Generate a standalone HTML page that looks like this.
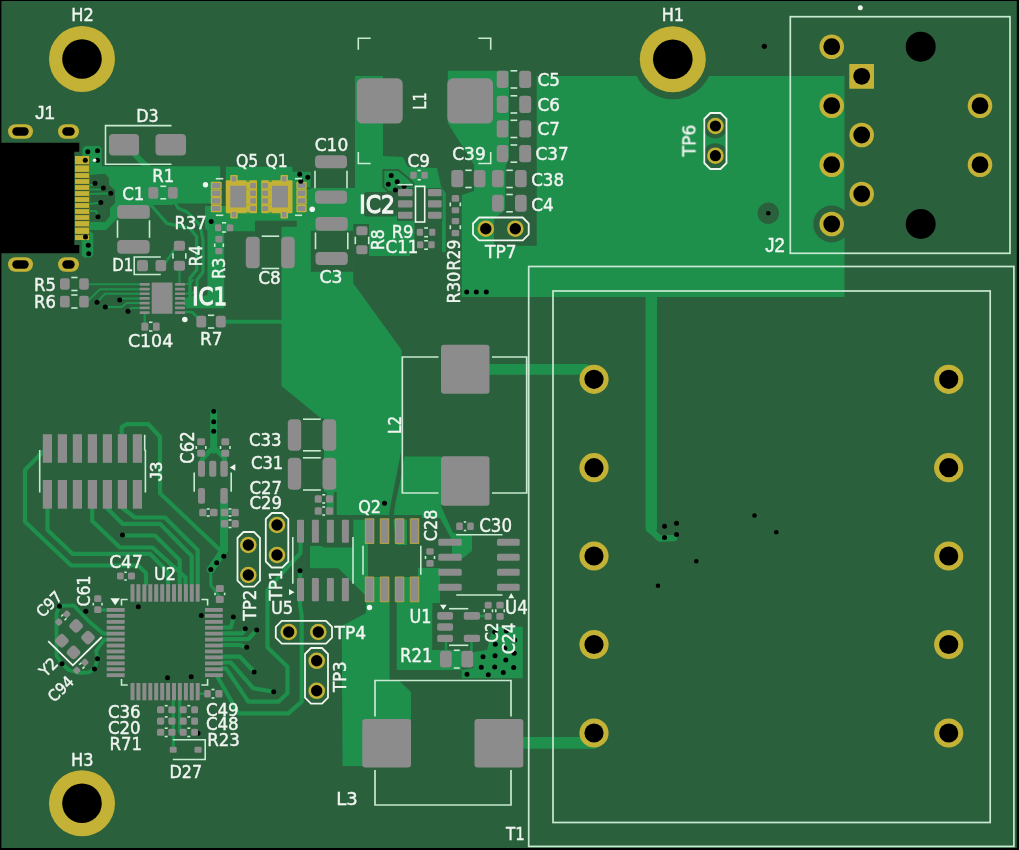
<!DOCTYPE html>
<html><head><meta charset="utf-8"><title>PCB</title>
<style>html,body{margin:0;padding:0;background:#000;}svg{display:block}text{font-family:"DejaVu Sans","Liberation Sans",sans-serif;fill:#eef6ee;stroke:#f2f2f2;stroke-width:0.45px}</style>
</head><body>
<svg width="1019" height="850" viewBox="0 0 1019 850">
<rect x="0" y="0" width="1019" height="850" fill="#000"/>
<rect x="1.4" y="1.0" width="1015.4" height="847.0" rx="0.0" fill="#2a603b" />
<polygon points="447.8,70.8 509.0,70.8 509.0,76.0 844.5,76.0 844.5,297.0 461.7,297.0 461.7,195.0 474.0,191.0 474.0,165.0 447.8,123.0" fill="#1f8f4c" />
<polygon points="89.0,164.0 101.7,164.0 101.7,166.3 220.3,166.3 220.3,203.5 175.0,203.5 172.0,205.0 150.0,205.0 150.0,218.7 117.0,218.7 106.0,230.0 89.0,230.0" fill="#1f8f4c" />
<polygon points="82.5,148.5 85.0,146.0 99.5,146.0 101.7,148.5 101.7,166.3 89.0,166.3 89.0,156.0 82.5,156.0" fill="#1f8f4c" />
<polygon points="81.7,240.0 89.0,240.0 89.0,230.0 93.3,234.0 93.3,255.0 91.0,257.5 84.0,257.5 81.7,255.0" fill="#1f8f4c" />
<polygon points="131.7,155.0 139.2,150.0 139.2,155.0 151.0,166.5 142.0,166.5" fill="#1f8f4c" />
<polygon points="225.8,166.7 292.5,166.7 292.5,171.7 310.8,171.7 310.8,188.0 355.0,188.0 355.0,76.0 383.0,76.0 383.0,156.0 403.0,157.0 408.0,167.0 437.0,168.0 441.0,186.0 445.8,193.0 445.8,252.0 410.0,252.0 410.0,256.0 369.0,256.0 369.0,250.0 353.3,250.0 353.3,283.3 401.7,350.0 401.0,452.0 397.5,470.0 391.0,503.0 388.5,518.0 336.7,518.0 336.7,492.0 324.0,492.0 324.0,418.3 320.8,418.3 281.5,386.0 281.5,226.7 296.7,226.7 296.7,220.8 255.0,220.8 255.0,231.3 224.2,231.3 224.2,308.3 186.0,308.3 186.0,300.0 207.5,295.0 207.5,231.3 205.0,228.0 205.0,206.0 225.8,206.0" fill="#1f8f4c" />
<polygon points="404.5,456.5 441.0,456.5 441.0,506.0 453.0,533.0 472.0,535.0 472.0,551.0 463.0,558.0 452.0,558.0 452.0,540.0 440.0,518.0 407.0,518.0 407.0,568.0 440.0,568.0 440.0,603.0 432.5,610.0 432.5,650.0 461.7,650.0 461.7,670.0 396.7,670.0 396.7,545.0 393.0,518.0 395.5,503.0 402.5,470.0" fill="#1f8f4c" />
<polygon points="461.7,678.3 522.8,678.3 522.8,626.7 493.0,626.7 487.0,650.0 473.3,652.0 473.3,668.0 461.7,670.0" fill="#1f8f4c" />
<polygon points="341.7,626.0 366.0,613.0 366.0,577.0 389.5,577.0 389.5,680.5 399.0,680.5 411.0,692.0 411.0,766.0 342.5,766.0" fill="#1f8f4c" />
<polygon points="353.0,518.0 368.0,518.0 368.0,598.0 353.0,583.0" fill="#1f8f4c" />
<polygon points="310.0,546.0 353.0,546.0 353.0,583.0 338.3,568.3 310.0,568.3" fill="#1f8f4c" />
<polygon points="326.7,489.0 334.0,489.0 334.0,520.0 326.7,520.0" fill="#1f8f4c" />
<polygon points="509.0,76.0 536.7,76.0 536.7,245.8 494.0,245.8 494.0,219.0 505.0,210.0 505.8,166.7 509.0,156.7" fill="#2a603b" />
<circle cx="672.8" cy="59.2" r="40.0" fill="#2a603b"/>
<circle cx="768.3" cy="213.3" r="10.7" fill="#2a603b"/>
<circle cx="831.7" cy="224.0" r="18.5" fill="#2a603b"/>
<circle cx="715.3" cy="126.0" r="12.5" fill="#2a603b"/>
<circle cx="715.3" cy="155.7" r="12.5" fill="#2a603b"/>
<polygon points="90.0,175.0 105.0,173.7 109.0,178.0 109.0,185.0 115.0,190.0 115.0,203.0 110.0,208.0 110.0,216.0 105.0,222.0 90.0,222.0" fill="#2a603b" />
<rect x="310.8" y="171.7" width="42.5" height="16.3" rx="0.0" fill="#2a603b" />
<rect x="310.8" y="230.8" width="42.5" height="40.9" rx="0.0" fill="#2a603b" />
<rect x="364.0" y="192.0" width="33.0" height="24.5" rx="3.0" fill="#2a603b" />
<rect x="397.0" y="188.0" width="45.5" height="33.0" rx="0.0" fill="#2a603b" />
<rect x="414.5" y="221.0" width="27.5" height="31.0" rx="0.0" fill="#2a603b" />
<polygon points="383.3,170.0 398.3,170.0 408.3,178.3 413.3,183.3 413.3,186.0 398.3,186.7 396.7,193.3 388.3,191.7 383.3,186.7" fill="#1f8f4c" stroke="#2a603b" stroke-width="2"/>
<rect x="353.3" y="224.0" width="15.7" height="32.0" rx="0.0" fill="#2a603b" />
<rect x="321.7" y="515.0" width="31.6" height="32.5" rx="3.0" fill="#2a603b" />
<rect x="340.0" y="515.0" width="81.7" height="4.7" rx="0.0" fill="#2a603b" />
<rect x="368.0" y="545.0" width="50.0" height="32.0" rx="0.0" fill="#2a603b" />
<rect x="407.0" y="518.0" width="33.0" height="50.0" rx="4.0" fill="#2a603b" />
<rect x="432.5" y="603.0" width="29.2" height="47.0" rx="0.0" fill="#2a603b" />
<polyline points="206.7,205.0 225.8,205.0" fill="none" stroke="#2a603b" stroke-width="1.6" stroke-linecap="butt" stroke-linejoin="round"/>
<polyline points="296.7,188.3 310.8,188.3" fill="none" stroke="#2a603b" stroke-width="1.6" stroke-linecap="butt" stroke-linejoin="round"/>
<polyline points="489.0,369.3 585.0,369.3 594.0,376.0" fill="none" stroke="#1f8f4c" stroke-width="10.7" stroke-linecap="round" stroke-linejoin="round"/>
<polyline points="523.0,742.8 594.0,742.8" fill="none" stroke="#1f8f4c" stroke-width="11.7" stroke-linecap="round" stroke-linejoin="round"/>
<polyline points="651.3,295.0 651.3,528.0" fill="none" stroke="#1f8f4c" stroke-width="11.5" stroke-linecap="round" stroke-linejoin="round"/>
<polyline points="649.5,529.0 659.5,538.5 674.0,538.0" fill="none" stroke="#1f8f4c" stroke-width="6.5" stroke-linecap="round" stroke-linejoin="round"/>
<polyline points="225.8,321.7 281.5,321.7" fill="none" stroke="#1f8f4c" stroke-width="4.0" stroke-linecap="round" stroke-linejoin="round"/>
<polyline points="89.0,194.0 110.8,193.3" fill="none" stroke="#1f8f4c" stroke-width="2.2" stroke-linecap="round" stroke-linejoin="round"/>
<polyline points="89.0,204.0 100.8,202.5" fill="none" stroke="#1f8f4c" stroke-width="2.2" stroke-linecap="round" stroke-linejoin="round"/>
<polyline points="89.0,211.0 96.0,211.0 98.0,216.7" fill="none" stroke="#1f8f4c" stroke-width="2.2" stroke-linecap="round" stroke-linejoin="round"/>
<polyline points="89.0,186.0 95.0,183.3" fill="none" stroke="#1f8f4c" stroke-width="2.2" stroke-linecap="round" stroke-linejoin="round"/>
<polyline points="89.0,189.5 100.0,189.5 103.3,188.0" fill="none" stroke="#1f8f4c" stroke-width="2.2" stroke-linecap="round" stroke-linejoin="round"/>
<polyline points="88.8,284.2 140.0,284.2" fill="none" stroke="#1f8f4c" stroke-width="2.0" stroke-linecap="round" stroke-linejoin="round"/>
<polyline points="88.8,300.0 100.0,289.2 140.0,289.2" fill="none" stroke="#1f8f4c" stroke-width="2.0" stroke-linecap="round" stroke-linejoin="round"/>
<polyline points="97.0,302.2 105.0,293.7 140.0,293.7" fill="none" stroke="#1f8f4c" stroke-width="2.0" stroke-linecap="round" stroke-linejoin="round"/>
<polyline points="119.7,300.0 123.0,298.5 140.0,298.5" fill="none" stroke="#1f8f4c" stroke-width="2.0" stroke-linecap="round" stroke-linejoin="round"/>
<polyline points="105.3,307.0 121.7,307.0 126.7,303.0 140.0,303.0" fill="none" stroke="#1f8f4c" stroke-width="2.0" stroke-linecap="round" stroke-linejoin="round"/>
<polyline points="128.0,311.3 131.7,308.0 140.0,308.0" fill="none" stroke="#1f8f4c" stroke-width="2.0" stroke-linecap="round" stroke-linejoin="round"/>
<polyline points="144.7,313.0 144.7,324.0" fill="none" stroke="#1f8f4c" stroke-width="2.5" stroke-linecap="round" stroke-linejoin="round"/>
<polyline points="166.0,262.0 174.0,250.0 176.0,246.0" fill="none" stroke="#1f8f4c" stroke-width="2.5" stroke-linecap="round" stroke-linejoin="round"/>
<polyline points="179.5,270.8 179.5,283.0" fill="none" stroke="#1f8f4c" stroke-width="2.0" stroke-linecap="round" stroke-linejoin="round"/>
<polyline points="150.0,204.0 157.0,212.0 166.7,223.3 190.0,228.3 196.7,236.7 196.7,270.0 190.0,278.0 190.0,300.0 185.0,304.0" fill="none" stroke="#1f8f4c" stroke-width="3.3" stroke-linecap="round" stroke-linejoin="round"/>
<polyline points="173.3,200.0 178.3,208.3 186.7,211.7 200.0,225.0 203.0,240.0 203.0,272.0 197.0,280.0 197.0,296.0 185.0,300.0" fill="none" stroke="#1f8f4c" stroke-width="3.3" stroke-linecap="round" stroke-linejoin="round"/>
<polyline points="185.0,284.0 190.0,284.0 193.0,280.0" fill="none" stroke="#1f8f4c" stroke-width="2.0" stroke-linecap="round" stroke-linejoin="round"/>
<polyline points="185.0,293.5 192.0,293.5 196.0,289.0" fill="none" stroke="#1f8f4c" stroke-width="2.0" stroke-linecap="round" stroke-linejoin="round"/>
<polyline points="185.0,312.0 192.0,312.0 200.0,320.0" fill="none" stroke="#1f8f4c" stroke-width="2.5" stroke-linecap="round" stroke-linejoin="round"/>
<polyline points="42.8,451.7 25.0,470.0 25.0,521.7 71.3,565.5 138.0,565.5 146.0,573.0 146.0,584.0" fill="none" stroke="#1f8f4c" stroke-width="4.2" stroke-linecap="round" stroke-linejoin="round"/>
<polyline points="47.5,508.0 47.5,530.0 72.5,553.8 150.0,553.8 158.0,562.0 168.0,572.0 168.0,584.0" fill="none" stroke="#1f8f4c" stroke-width="4.2" stroke-linecap="round" stroke-linejoin="round"/>
<polyline points="92.2,508.0 92.2,521.0 120.0,547.5 152.5,547.5 185.5,577.5 185.5,585.0" fill="none" stroke="#1f8f4c" stroke-width="4.2" stroke-linecap="round" stroke-linejoin="round"/>
<polyline points="107.0,508.0 122.5,523.8 160.0,523.8 191.7,556.0 191.7,585.0" fill="none" stroke="#1f8f4c" stroke-width="4.2" stroke-linecap="round" stroke-linejoin="round"/>
<polyline points="122.5,508.0 135.0,517.5 165.0,517.5 197.7,550.0 197.7,585.0" fill="none" stroke="#1f8f4c" stroke-width="4.2" stroke-linecap="round" stroke-linejoin="round"/>
<polyline points="122.5,535.5 155.0,535.5 179.7,560.0 179.7,585.0" fill="none" stroke="#1f8f4c" stroke-width="4.2" stroke-linecap="round" stroke-linejoin="round"/>
<polyline points="121.7,434.0 121.7,427.0 126.7,424.2 148.3,424.2 160.0,436.7 160.0,493.3 220.0,550.0" fill="none" stroke="#1f8f4c" stroke-width="4.2" stroke-linecap="round" stroke-linejoin="round"/>
<polyline points="213.7,412.0 213.7,450.0" fill="none" stroke="#1f8f4c" stroke-width="7.0" stroke-linecap="round" stroke-linejoin="round"/>
<polyline points="213.7,447.0 203.0,458.0 201.5,462.0" fill="none" stroke="#1f8f4c" stroke-width="5.0" stroke-linecap="round" stroke-linejoin="round"/>
<polyline points="213.7,447.0 224.5,458.0 224.5,462.0" fill="none" stroke="#1f8f4c" stroke-width="5.0" stroke-linecap="round" stroke-linejoin="round"/>
<polyline points="224.0,503.0 224.0,550.0 210.8,569.5" fill="none" stroke="#1f8f4c" stroke-width="8.0" stroke-linecap="round" stroke-linejoin="round"/>
<polyline points="210.8,569.5 210.8,585.0 216.0,592.0 219.0,596.0" fill="none" stroke="#1f8f4c" stroke-width="3.0" stroke-linecap="round" stroke-linejoin="round"/>
<polyline points="226.0,512.0 235.0,512.0" fill="none" stroke="#1f8f4c" stroke-width="3.0" stroke-linecap="round" stroke-linejoin="round"/>
<polyline points="222.0,627.5 230.8,627.5 233.7,617.0" fill="none" stroke="#1f8f4c" stroke-width="4.2" stroke-linecap="round" stroke-linejoin="round"/>
<polyline points="222.0,633.3 242.5,633.3 245.3,629.2" fill="none" stroke="#1f8f4c" stroke-width="4.2" stroke-linecap="round" stroke-linejoin="round"/>
<polyline points="222.0,639.2 248.3,639.2 256.7,630.0" fill="none" stroke="#1f8f4c" stroke-width="4.2" stroke-linecap="round" stroke-linejoin="round"/>
<polyline points="222.0,645.0 240.0,645.0 246.7,647.5" fill="none" stroke="#1f8f4c" stroke-width="4.2" stroke-linecap="round" stroke-linejoin="round"/>
<polyline points="222.0,656.7 240.0,656.7 254.7,672.2" fill="none" stroke="#1f8f4c" stroke-width="4.2" stroke-linecap="round" stroke-linejoin="round"/>
<polyline points="222.0,662.5 230.8,662.5 253.3,688.3 273.7,691.7" fill="none" stroke="#1f8f4c" stroke-width="4.2" stroke-linecap="round" stroke-linejoin="round"/>
<polyline points="222.0,668.3 226.0,668.3 248.3,701.7 278.3,701.7 287.5,693.3 287.5,666.7 267.5,647.5 267.5,590.0 283.5,571.5 300.5,553.0 300.5,543.0" fill="none" stroke="#1f8f4c" stroke-width="4.2" stroke-linecap="round" stroke-linejoin="round"/>
<polyline points="217.0,676.0 238.3,713.3 288.3,713.3 301.7,701.7 301.7,646.7 301.7,615.0 300.0,605.0 300.5,598.0" fill="none" stroke="#1f8f4c" stroke-width="4.2" stroke-linecap="round" stroke-linejoin="round"/>
<polyline points="300.0,570.8 300.5,580.0" fill="none" stroke="#1f8f4c" stroke-width="4.2" stroke-linecap="round" stroke-linejoin="round"/>
<polyline points="173.3,700.0 173.3,748.0" fill="none" stroke="#1f8f4c" stroke-width="3.2" stroke-linecap="round" stroke-linejoin="round"/>
<polyline points="179.7,700.0 179.7,732.0" fill="none" stroke="#1f8f4c" stroke-width="3.2" stroke-linecap="round" stroke-linejoin="round"/>
<polyline points="200.0,693.8 207.0,693.8" fill="none" stroke="#1f8f4c" stroke-width="2.5" stroke-linecap="round" stroke-linejoin="round"/>
<polyline points="59.6,605.9 73.5,605.3 88.8,621.2 103.0,633.5 108.0,633.5" fill="none" stroke="#1f8f4c" stroke-width="3.8" stroke-linecap="round" stroke-linejoin="round"/>
<polyline points="108.0,639.4 104.0,640.0 96.0,651.2 97.6,658.8 94.5,669.0 88.8,672.4 79.4,673.0 68.8,670.0 61.8,663.5 56.5,655.9 56.5,613.5 59.6,605.9" fill="none" stroke="#1f8f4c" stroke-width="3.8" stroke-linecap="round" stroke-linejoin="round"/>
<polyline points="101.0,610.0 108.0,610.0" fill="none" stroke="#1f8f4c" stroke-width="3.0" stroke-linecap="round" stroke-linejoin="round"/>
<polyline points="446.0,642.0 446.0,651.0" fill="none" stroke="#1f8f4c" stroke-width="2.5" stroke-linecap="round" stroke-linejoin="round"/>
<polyline points="471.5,642.0 471.5,651.0" fill="none" stroke="#1f8f4c" stroke-width="2.5" stroke-linecap="round" stroke-linejoin="round"/>
<polyline points="480.0,616.0 485.0,616.0" fill="none" stroke="#1f8f4c" stroke-width="2.5" stroke-linecap="round" stroke-linejoin="round"/>
<polyline points="412.0,193.0 404.2,186.2" fill="none" stroke="#1f8f4c" stroke-width="2.5" stroke-linecap="round" stroke-linejoin="round"/>
<circle cx="82.0" cy="59.0" r="33.0" fill="#c4b236"/>
<circle cx="82.0" cy="59.0" r="19.8" fill="#000"/>
<circle cx="672.8" cy="59.2" r="33.0" fill="#c4b236"/>
<circle cx="672.8" cy="59.2" r="19.8" fill="#000"/>
<circle cx="82.0" cy="803.3" r="33.0" fill="#c4b236"/>
<circle cx="82.0" cy="803.3" r="19.8" fill="#000"/>
<rect x="8.0" y="124.2" width="25.0" height="14.6" rx="7.3" fill="#c4b236" />
<rect x="12.3" y="127.3" width="16.4" height="8.4" rx="4.2" fill="#000" />
<rect x="58.0" y="124.2" width="21.0" height="14.6" rx="7.3" fill="#c4b236" />
<rect x="62.3" y="127.3" width="12.4" height="8.4" rx="4.2" fill="#000" />
<rect x="8.0" y="257.2" width="25.0" height="14.6" rx="7.3" fill="#c4b236" />
<rect x="12.3" y="260.3" width="16.4" height="8.4" rx="4.2" fill="#000" />
<rect x="58.0" y="257.2" width="21.0" height="14.6" rx="7.3" fill="#c4b236" />
<rect x="62.3" y="260.3" width="12.4" height="8.4" rx="4.2" fill="#000" />
<polygon points="0.0,142.7 79.3,142.7 79.3,151.8 74.3,151.8 74.3,245.0 79.3,245.0 79.3,253.3 0.0,253.3" fill="#000" />
<rect x="75.0" y="156.0" width="14.0" height="84.0" rx="0.0" fill="#c4b236" />
<polyline points="75.0,164.8 89.0,164.8" fill="none" stroke="#3c5a2e" stroke-width="1.2" stroke-linecap="butt" stroke-linejoin="round"/>
<polyline points="75.0,172.5 89.0,172.5" fill="none" stroke="#3c5a2e" stroke-width="1.2" stroke-linecap="butt" stroke-linejoin="round"/>
<polyline points="75.0,178.5 89.0,178.5" fill="none" stroke="#3c5a2e" stroke-width="1.2" stroke-linecap="butt" stroke-linejoin="round"/>
<polyline points="75.0,184.5 89.0,184.5" fill="none" stroke="#3c5a2e" stroke-width="1.2" stroke-linecap="butt" stroke-linejoin="round"/>
<polyline points="75.0,190.5 89.0,190.5" fill="none" stroke="#3c5a2e" stroke-width="1.2" stroke-linecap="butt" stroke-linejoin="round"/>
<polyline points="75.0,196.5 89.0,196.5" fill="none" stroke="#3c5a2e" stroke-width="1.2" stroke-linecap="butt" stroke-linejoin="round"/>
<polyline points="75.0,202.5 89.0,202.5" fill="none" stroke="#3c5a2e" stroke-width="1.2" stroke-linecap="butt" stroke-linejoin="round"/>
<polyline points="75.0,208.5 89.0,208.5" fill="none" stroke="#3c5a2e" stroke-width="1.2" stroke-linecap="butt" stroke-linejoin="round"/>
<polyline points="75.0,214.5 89.0,214.5" fill="none" stroke="#3c5a2e" stroke-width="1.2" stroke-linecap="butt" stroke-linejoin="round"/>
<polyline points="75.0,220.5 89.0,220.5" fill="none" stroke="#3c5a2e" stroke-width="1.2" stroke-linecap="butt" stroke-linejoin="round"/>
<polyline points="75.0,227.0 89.0,227.0" fill="none" stroke="#3c5a2e" stroke-width="1.2" stroke-linecap="butt" stroke-linejoin="round"/>
<polyline points="75.0,234.5 89.0,234.5" fill="none" stroke="#3c5a2e" stroke-width="1.2" stroke-linecap="butt" stroke-linejoin="round"/>
<circle cx="87.8" cy="151.7" r="2.5" fill="#000"/>
<circle cx="97.5" cy="150.8" r="2.5" fill="#000"/>
<circle cx="85.3" cy="160.3" r="2.5" fill="#000"/>
<circle cx="97.5" cy="160.3" r="2.5" fill="#000"/>
<circle cx="95.0" cy="183.3" r="2.5" fill="#000"/>
<circle cx="103.3" cy="188.0" r="2.5" fill="#000"/>
<circle cx="110.8" cy="193.3" r="2.5" fill="#000"/>
<circle cx="100.8" cy="202.5" r="2.5" fill="#000"/>
<circle cx="98.0" cy="216.7" r="2.5" fill="#000"/>
<circle cx="85.5" cy="237.0" r="2.5" fill="#000"/>
<circle cx="88.3" cy="245.3" r="2.5" fill="#000"/>
<circle cx="88.7" cy="253.7" r="2.5" fill="#000"/>
<circle cx="94.6" cy="160.3" r="1.8" fill="#eef6ee"/>
<rect x="109.0" y="134.0" width="30.0" height="21.5" rx="4.0" fill="#8c8c8c" />
<rect x="155.5" y="134.0" width="30.5" height="21.5" rx="4.0" fill="#8c8c8c" />
<rect x="148.3" y="187.0" width="10.0" height="11.7" rx="2.2" fill="#8c8c8c" />
<rect x="168.0" y="187.0" width="9.7" height="11.7" rx="2.1" fill="#8c8c8c" />
<rect x="117.2" y="205.0" width="32.5" height="13.7" rx="4.0" fill="#8c8c8c" />
<rect x="117.2" y="240.0" width="32.5" height="13.7" rx="4.0" fill="#8c8c8c" />
<rect x="137.0" y="260.0" width="11.0" height="11.3" rx="2.4" fill="#8c8c8c" />
<rect x="155.5" y="260.0" width="10.7" height="11.3" rx="2.4" fill="#8c8c8c" />
<rect x="173.8" y="240.8" width="11.2" height="10.0" rx="2.2" fill="#8c8c8c" />
<rect x="173.8" y="260.8" width="11.2" height="10.0" rx="2.2" fill="#8c8c8c" />
<rect x="215.0" y="224.2" width="6.3" height="7.1" rx="1.4" fill="#8c8c8c" />
<rect x="226.7" y="224.2" width="6.6" height="7.1" rx="1.5" fill="#8c8c8c" />
<rect x="215.3" y="235.8" width="7.2" height="6.7" rx="1.5" fill="#8c8c8c" />
<rect x="215.3" y="248.0" width="7.2" height="6.2" rx="1.4" fill="#8c8c8c" />
<circle cx="211.2" cy="221.5" r="2.5" fill="#000"/>
<rect x="60.0" y="278.3" width="9.7" height="11.4" rx="2.1" fill="#8c8c8c" />
<rect x="79.2" y="278.3" width="9.6" height="11.4" rx="2.1" fill="#8c8c8c" />
<rect x="60.0" y="295.8" width="9.7" height="11.7" rx="2.1" fill="#8c8c8c" />
<rect x="79.2" y="295.8" width="9.6" height="11.7" rx="2.1" fill="#8c8c8c" />
<rect x="139.7" y="283.0" width="10.0" height="2.7" rx="0.5" fill="#8c8c8c" />
<rect x="175.0" y="283.0" width="10.0" height="2.7" rx="0.5" fill="#8c8c8c" />
<rect x="139.7" y="287.7" width="10.0" height="2.7" rx="0.5" fill="#8c8c8c" />
<rect x="175.0" y="287.7" width="10.0" height="2.7" rx="0.5" fill="#8c8c8c" />
<rect x="139.7" y="292.4" width="10.0" height="2.7" rx="0.5" fill="#8c8c8c" />
<rect x="175.0" y="292.4" width="10.0" height="2.7" rx="0.5" fill="#8c8c8c" />
<rect x="139.7" y="297.1" width="10.0" height="2.7" rx="0.5" fill="#8c8c8c" />
<rect x="175.0" y="297.1" width="10.0" height="2.7" rx="0.5" fill="#8c8c8c" />
<rect x="139.7" y="301.8" width="10.0" height="2.7" rx="0.5" fill="#8c8c8c" />
<rect x="175.0" y="301.8" width="10.0" height="2.7" rx="0.5" fill="#8c8c8c" />
<rect x="139.7" y="306.5" width="10.0" height="2.7" rx="0.5" fill="#8c8c8c" />
<rect x="175.0" y="306.5" width="10.0" height="2.7" rx="0.5" fill="#8c8c8c" />
<rect x="139.7" y="311.2" width="10.0" height="2.7" rx="0.5" fill="#8c8c8c" />
<rect x="175.0" y="311.2" width="10.0" height="2.7" rx="0.5" fill="#8c8c8c" />
<rect x="151.7" y="282.5" width="20.8" height="31.2" rx="0.5" fill="#8c8c8c" />
<rect x="141.3" y="322.5" width="7.0" height="8.3" rx="1.5" fill="#8c8c8c" />
<rect x="153.0" y="322.5" width="6.7" height="8.3" rx="1.5" fill="#8c8c8c" />
<circle cx="97.0" cy="302.2" r="2.5" fill="#000"/>
<circle cx="105.3" cy="307.0" r="2.5" fill="#000"/>
<circle cx="119.7" cy="300.0" r="2.5" fill="#000"/>
<circle cx="128.0" cy="311.3" r="2.5" fill="#000"/>
<circle cx="184.8" cy="319.5" r="2.8" fill="#eef6ee"/>
<rect x="196.3" y="315.8" width="9.9" height="11.7" rx="2.2" fill="#8c8c8c" />
<rect x="215.8" y="315.8" width="10.0" height="11.7" rx="2.2" fill="#8c8c8c" />
<rect x="210.8" y="181.7" width="10.9" height="7.8" rx="1.0" fill="#c4b236" />
<rect x="212.0" y="182.9" width="8.5" height="5.4" rx="0.8" fill="#8c8c8c" />
<rect x="210.8" y="189.4" width="10.9" height="7.7" rx="1.0" fill="#c4b236" />
<rect x="212.0" y="190.6" width="8.5" height="5.3" rx="0.8" fill="#8c8c8c" />
<rect x="210.8" y="197.1" width="10.9" height="7.6" rx="1.0" fill="#c4b236" />
<rect x="212.0" y="198.3" width="8.5" height="5.2" rx="0.8" fill="#8c8c8c" />
<rect x="210.8" y="204.7" width="10.9" height="7.6" rx="1.0" fill="#c4b236" />
<rect x="212.0" y="205.9" width="8.5" height="5.2" rx="0.8" fill="#8c8c8c" />
<rect x="296.3" y="181.7" width="10.4" height="7.8" rx="1.0" fill="#c4b236" />
<rect x="297.5" y="182.9" width="8.0" height="5.4" rx="0.8" fill="#8c8c8c" />
<rect x="296.3" y="189.4" width="10.4" height="7.7" rx="1.0" fill="#c4b236" />
<rect x="297.5" y="190.6" width="8.0" height="5.3" rx="0.8" fill="#8c8c8c" />
<rect x="296.3" y="197.1" width="10.4" height="7.6" rx="1.0" fill="#c4b236" />
<rect x="297.5" y="198.3" width="8.0" height="5.2" rx="0.8" fill="#8c8c8c" />
<rect x="296.3" y="204.7" width="10.4" height="7.6" rx="1.0" fill="#c4b236" />
<rect x="297.5" y="205.9" width="8.0" height="5.2" rx="0.8" fill="#8c8c8c" />
<rect x="225.8" y="180.3" width="31.2" height="33.0" rx="1.0" fill="#c4b236" />
<rect x="230.3" y="175.0" width="7.4" height="43.5" rx="0.8" fill="#c4b236" />
<rect x="230.3" y="185.8" width="15.9" height="21.7" rx="0.5" fill="#8c8c8c" />
<rect x="231.7" y="176.3" width="4.6" height="5.2" rx="0.5" fill="#8c8c8c" />
<rect x="231.7" y="212.0" width="4.6" height="5.2" rx="0.5" fill="#8c8c8c" />
<rect x="246.5" y="180.3" width="3.0" height="33.0" rx="0.0" fill="#1f8f4c" />
<rect x="246.2" y="181.7" width="3.8" height="7.8" rx="0.0" fill="#c4b236" />
<rect x="250.2" y="182.9" width="5.8" height="5.4" rx="0.8" fill="#8c8c8c" />
<rect x="246.2" y="189.4" width="3.8" height="7.7" rx="0.0" fill="#c4b236" />
<rect x="250.2" y="190.6" width="5.8" height="5.3" rx="0.8" fill="#8c8c8c" />
<rect x="246.2" y="197.1" width="3.8" height="7.6" rx="0.0" fill="#c4b236" />
<rect x="250.2" y="198.3" width="5.8" height="5.2" rx="0.8" fill="#8c8c8c" />
<rect x="246.2" y="204.7" width="3.8" height="7.6" rx="0.0" fill="#c4b236" />
<rect x="250.2" y="205.9" width="5.8" height="5.2" rx="0.8" fill="#8c8c8c" />
<rect x="246.2" y="189.5" width="11.0" height="-0.1" rx="0.0" fill="#1f8f4c" />
<rect x="246.2" y="197.1" width="11.0" height="0.0" rx="0.0" fill="#1f8f4c" />
<rect x="246.2" y="204.7" width="11.0" height="0.0" rx="0.0" fill="#1f8f4c" />
<rect x="261.3" y="180.3" width="31.2" height="33.0" rx="1.0" fill="#c4b236" />
<rect x="280.5" y="175.0" width="7.5" height="43.5" rx="0.8" fill="#c4b236" />
<rect x="272.0" y="185.8" width="16.0" height="21.7" rx="0.5" fill="#8c8c8c" />
<rect x="282.0" y="176.3" width="4.5" height="5.2" rx="0.5" fill="#8c8c8c" />
<rect x="282.0" y="212.0" width="4.5" height="5.2" rx="0.5" fill="#8c8c8c" />
<rect x="268.8" y="180.3" width="3.0" height="33.0" rx="0.0" fill="#1f8f4c" />
<rect x="268.3" y="181.7" width="3.7" height="7.8" rx="0.0" fill="#c4b236" />
<rect x="262.3" y="182.9" width="5.7" height="5.4" rx="0.8" fill="#8c8c8c" />
<rect x="268.3" y="189.4" width="3.7" height="7.7" rx="0.0" fill="#c4b236" />
<rect x="262.3" y="190.6" width="5.7" height="5.3" rx="0.8" fill="#8c8c8c" />
<rect x="268.3" y="197.1" width="3.7" height="7.6" rx="0.0" fill="#c4b236" />
<rect x="262.3" y="198.3" width="5.7" height="5.2" rx="0.8" fill="#8c8c8c" />
<rect x="268.3" y="204.7" width="3.7" height="7.6" rx="0.0" fill="#c4b236" />
<rect x="262.3" y="205.9" width="5.7" height="5.2" rx="0.8" fill="#8c8c8c" />
<rect x="261.0" y="189.5" width="11.0" height="-0.1" rx="0.0" fill="#1f8f4c" />
<rect x="261.0" y="197.1" width="11.0" height="0.0" rx="0.0" fill="#1f8f4c" />
<rect x="261.0" y="204.7" width="11.0" height="0.0" rx="0.0" fill="#1f8f4c" />
<circle cx="205.5" cy="184.7" r="2.7" fill="#eef6ee"/>
<circle cx="312.2" cy="209.2" r="2.8" fill="#eef6ee"/>
<circle cx="299.7" cy="174.2" r="2.5" fill="#000"/>
<circle cx="307.8" cy="177.2" r="2.5" fill="#000"/>
<circle cx="300.8" cy="181.2" r="2.5" fill="#000"/>
<rect x="315.0" y="155.3" width="32.0" height="13.0" rx="4.0" fill="#8c8c8c" />
<rect x="315.0" y="190.5" width="32.0" height="13.3" rx="4.0" fill="#8c8c8c" />
<rect x="315.5" y="217.0" width="32.3" height="13.8" rx="4.0" fill="#8c8c8c" />
<rect x="315.5" y="252.0" width="32.3" height="13.0" rx="4.0" fill="#8c8c8c" />
<rect x="245.8" y="236.7" width="13.9" height="31.6" rx="4.0" fill="#8c8c8c" />
<rect x="281.2" y="236.7" width="13.5" height="31.6" rx="4.0" fill="#8c8c8c" />
<rect x="356.7" y="78.3" width="46.0" height="45.2" rx="5.5" fill="#8c8c8c" />
<rect x="447.3" y="78.3" width="45.7" height="45.2" rx="5.5" fill="#8c8c8c" />
<rect x="496.7" y="70.8" width="11.6" height="17.2" rx="3.0" fill="#8c8c8c" />
<rect x="519.2" y="70.8" width="12.0" height="17.2" rx="3.0" fill="#8c8c8c" />
<rect x="496.7" y="95.8" width="11.6" height="17.2" rx="3.0" fill="#8c8c8c" />
<rect x="519.2" y="95.8" width="12.0" height="17.2" rx="3.0" fill="#8c8c8c" />
<rect x="496.7" y="120.3" width="11.6" height="17.2" rx="3.0" fill="#8c8c8c" />
<rect x="519.2" y="120.3" width="12.0" height="17.2" rx="3.0" fill="#8c8c8c" />
<rect x="496.7" y="145.0" width="11.6" height="17.2" rx="3.0" fill="#8c8c8c" />
<rect x="519.2" y="145.0" width="12.0" height="17.2" rx="3.0" fill="#8c8c8c" />
<rect x="492.0" y="170.0" width="11.8" height="17.3" rx="3.0" fill="#8c8c8c" />
<rect x="515.0" y="170.0" width="11.7" height="17.3" rx="3.0" fill="#8c8c8c" />
<rect x="451.3" y="170.0" width="12.0" height="17.3" rx="3.0" fill="#8c8c8c" />
<rect x="473.8" y="170.0" width="11.7" height="17.3" rx="3.0" fill="#8c8c8c" />
<rect x="492.0" y="194.7" width="11.8" height="17.0" rx="3.0" fill="#8c8c8c" />
<rect x="515.0" y="194.7" width="11.7" height="17.0" rx="3.0" fill="#8c8c8c" />
<rect x="451.7" y="195.0" width="7.5" height="6.7" rx="1.5" fill="#8c8c8c" />
<rect x="451.7" y="207.2" width="7.5" height="6.1" rx="1.3" fill="#8c8c8c" />
<rect x="451.7" y="218.0" width="7.5" height="6.2" rx="1.4" fill="#8c8c8c" />
<rect x="451.7" y="230.0" width="7.5" height="6.3" rx="1.4" fill="#8c8c8c" />
<rect x="398.0" y="189.0" width="14.5" height="7.2" rx="1.0" fill="#8c8c8c" />
<rect x="428.0" y="189.0" width="13.7" height="7.2" rx="1.0" fill="#8c8c8c" />
<rect x="398.0" y="200.3" width="14.5" height="7.2" rx="1.0" fill="#8c8c8c" />
<rect x="428.0" y="200.3" width="13.7" height="7.2" rx="1.0" fill="#8c8c8c" />
<rect x="398.0" y="211.7" width="14.5" height="7.1" rx="1.0" fill="#8c8c8c" />
<rect x="428.0" y="211.7" width="13.7" height="7.1" rx="1.0" fill="#8c8c8c" />
<circle cx="391.2" cy="175.5" r="2.5" fill="#000"/>
<circle cx="397.2" cy="181.7" r="2.5" fill="#000"/>
<circle cx="388.3" cy="184.2" r="2.5" fill="#000"/>
<circle cx="404.2" cy="186.2" r="2.5" fill="#000"/>
<circle cx="395.3" cy="190.0" r="2.5" fill="#000"/>
<rect x="410.3" y="171.7" width="6.4" height="7.0" rx="1.4" fill="#8c8c8c" />
<rect x="421.3" y="171.7" width="6.5" height="7.0" rx="1.4" fill="#8c8c8c" />
<rect x="416.7" y="228.7" width="6.3" height="7.1" rx="1.4" fill="#8c8c8c" />
<rect x="429.2" y="228.7" width="6.1" height="7.1" rx="1.3" fill="#8c8c8c" />
<rect x="417.0" y="241.3" width="6.3" height="7.0" rx="1.4" fill="#8c8c8c" />
<rect x="428.3" y="241.3" width="6.4" height="7.0" rx="1.4" fill="#8c8c8c" />
<rect x="356.3" y="226.3" width="11.2" height="9.0" rx="2.0" fill="#8c8c8c" />
<rect x="356.3" y="245.3" width="11.2" height="8.9" rx="2.0" fill="#8c8c8c" />
<circle cx="466.7" cy="292.0" r="2.5" fill="#000"/>
<circle cx="476.3" cy="292.0" r="2.5" fill="#000"/>
<circle cx="486.3" cy="292.0" r="2.5" fill="#000"/>
<circle cx="485.8" cy="228.7" r="8.3" fill="#c4b236"/>
<circle cx="485.8" cy="228.7" r="5.7" fill="#000"/>
<circle cx="515.3" cy="228.7" r="8.3" fill="#c4b236"/>
<circle cx="515.3" cy="228.7" r="5.7" fill="#000"/>
<circle cx="715.4" cy="126.0" r="8.3" fill="#c4b236"/>
<circle cx="715.4" cy="126.0" r="5.6" fill="#000"/>
<circle cx="715.4" cy="155.7" r="8.3" fill="#c4b236"/>
<circle cx="715.4" cy="155.7" r="5.6" fill="#000"/>
<circle cx="277.0" cy="525.0" r="8.3" fill="#c4b236"/>
<circle cx="277.0" cy="525.0" r="5.7" fill="#000"/>
<circle cx="277.0" cy="555.0" r="8.3" fill="#c4b236"/>
<circle cx="277.0" cy="555.0" r="5.7" fill="#000"/>
<circle cx="248.3" cy="545.0" r="8.3" fill="#c4b236"/>
<circle cx="248.3" cy="545.0" r="5.7" fill="#000"/>
<circle cx="248.3" cy="575.0" r="8.3" fill="#c4b236"/>
<circle cx="248.3" cy="575.0" r="5.7" fill="#000"/>
<circle cx="288.7" cy="632.0" r="8.3" fill="#c4b236"/>
<circle cx="288.7" cy="632.0" r="5.7" fill="#000"/>
<circle cx="318.3" cy="632.0" r="8.3" fill="#c4b236"/>
<circle cx="318.3" cy="632.0" r="5.7" fill="#000"/>
<circle cx="316.7" cy="660.8" r="8.3" fill="#c4b236"/>
<circle cx="316.7" cy="660.8" r="5.7" fill="#000"/>
<circle cx="316.7" cy="690.8" r="8.3" fill="#c4b236"/>
<circle cx="316.7" cy="690.8" r="5.7" fill="#000"/>
<circle cx="831.7" cy="46.7" r="12.3" fill="#c4b236"/>
<circle cx="831.7" cy="46.7" r="8.4" fill="#000"/>
<circle cx="831.7" cy="105.7" r="12.3" fill="#c4b236"/>
<circle cx="831.7" cy="105.7" r="8.4" fill="#000"/>
<circle cx="861.7" cy="135.0" r="12.3" fill="#c4b236"/>
<circle cx="861.7" cy="135.0" r="8.4" fill="#000"/>
<circle cx="831.7" cy="164.7" r="12.3" fill="#c4b236"/>
<circle cx="831.7" cy="164.7" r="8.4" fill="#000"/>
<circle cx="861.7" cy="194.0" r="12.3" fill="#c4b236"/>
<circle cx="861.7" cy="194.0" r="8.4" fill="#000"/>
<circle cx="831.7" cy="224.0" r="12.3" fill="#c4b236"/>
<circle cx="831.7" cy="224.0" r="8.4" fill="#000"/>
<circle cx="980.0" cy="105.7" r="12.3" fill="#c4b236"/>
<circle cx="980.0" cy="105.7" r="8.4" fill="#000"/>
<circle cx="980.0" cy="164.7" r="12.3" fill="#c4b236"/>
<circle cx="980.0" cy="164.7" r="8.4" fill="#000"/>
<rect x="849.3" y="64.0" width="24.7" height="24.7" rx="0.5" fill="#c4b236" />
<circle cx="861.7" cy="76.3" r="8.4" fill="#000"/>
<circle cx="920.7" cy="46.7" r="15.0" fill="#000"/>
<circle cx="920.7" cy="224.0" r="15.0" fill="#000"/>
<circle cx="764.3" cy="46.3" r="2.6" fill="#000"/>
<circle cx="768.3" cy="213.3" r="2.3" fill="#000"/>
<circle cx="860.3" cy="7.7" r="2.5" fill="#eef6ee"/>
<circle cx="594.0" cy="379.3" r="14.6" fill="#c4b236"/>
<circle cx="594.0" cy="379.3" r="9.6" fill="#000"/>
<circle cx="948.7" cy="379.3" r="14.6" fill="#c4b236"/>
<circle cx="948.7" cy="379.3" r="9.6" fill="#000"/>
<circle cx="594.0" cy="467.7" r="14.6" fill="#c4b236"/>
<circle cx="594.0" cy="467.7" r="9.6" fill="#000"/>
<circle cx="948.7" cy="467.7" r="14.6" fill="#c4b236"/>
<circle cx="948.7" cy="467.7" r="9.6" fill="#000"/>
<circle cx="594.0" cy="556.0" r="14.6" fill="#c4b236"/>
<circle cx="594.0" cy="556.0" r="9.6" fill="#000"/>
<circle cx="948.7" cy="556.0" r="14.6" fill="#c4b236"/>
<circle cx="948.7" cy="556.0" r="9.6" fill="#000"/>
<circle cx="594.0" cy="644.5" r="14.6" fill="#c4b236"/>
<circle cx="594.0" cy="644.5" r="9.6" fill="#000"/>
<circle cx="948.7" cy="644.5" r="14.6" fill="#c4b236"/>
<circle cx="948.7" cy="644.5" r="9.6" fill="#000"/>
<circle cx="594.0" cy="733.0" r="14.6" fill="#c4b236"/>
<circle cx="594.0" cy="733.0" r="9.6" fill="#000"/>
<circle cx="948.7" cy="733.0" r="14.6" fill="#c4b236"/>
<circle cx="948.7" cy="733.0" r="9.6" fill="#000"/>
<circle cx="664.5" cy="526.3" r="2.5" fill="#000"/>
<circle cx="676.5" cy="523.3" r="2.5" fill="#000"/>
<circle cx="664.5" cy="537.5" r="2.5" fill="#000"/>
<circle cx="676.5" cy="534.5" r="2.5" fill="#000"/>
<circle cx="754.5" cy="515.5" r="2.3" fill="#000"/>
<circle cx="776.3" cy="532.3" r="2.3" fill="#000"/>
<circle cx="696.3" cy="561.3" r="2.3" fill="#000"/>
<circle cx="658.0" cy="585.8" r="2.3" fill="#000"/>
<rect x="441.0" y="344.7" width="48.5" height="49.0" rx="3.0" fill="#8c8c8c" />
<rect x="441.0" y="456.3" width="48.5" height="49.4" rx="3.0" fill="#8c8c8c" />
<rect x="362.3" y="719.0" width="48.7" height="48.6" rx="3.0" fill="#8c8c8c" />
<rect x="474.5" y="719.0" width="48.8" height="48.6" rx="3.0" fill="#8c8c8c" />
<rect x="42.8" y="434.2" width="9.2" height="28.6" rx="0.0" fill="#8c8c8c" />
<rect x="42.8" y="480.0" width="9.2" height="28.7" rx="0.0" fill="#8c8c8c" />
<rect x="57.8" y="434.2" width="9.2" height="28.6" rx="0.0" fill="#8c8c8c" />
<rect x="57.8" y="480.0" width="9.2" height="28.7" rx="0.0" fill="#8c8c8c" />
<rect x="72.8" y="434.2" width="9.2" height="28.6" rx="0.0" fill="#8c8c8c" />
<rect x="72.8" y="480.0" width="9.2" height="28.7" rx="0.0" fill="#8c8c8c" />
<rect x="87.8" y="434.2" width="9.2" height="28.6" rx="0.0" fill="#8c8c8c" />
<rect x="87.8" y="480.0" width="9.2" height="28.7" rx="0.0" fill="#8c8c8c" />
<rect x="102.8" y="434.2" width="9.2" height="28.6" rx="0.0" fill="#8c8c8c" />
<rect x="102.8" y="480.0" width="9.2" height="28.7" rx="0.0" fill="#8c8c8c" />
<rect x="117.8" y="434.2" width="9.2" height="28.6" rx="0.0" fill="#8c8c8c" />
<rect x="117.8" y="480.0" width="9.2" height="28.7" rx="0.0" fill="#8c8c8c" />
<rect x="132.8" y="434.2" width="9.2" height="28.6" rx="0.0" fill="#8c8c8c" />
<rect x="132.8" y="480.0" width="9.2" height="28.7" rx="0.0" fill="#8c8c8c" />
<circle cx="122.5" cy="535.0" r="2.5" fill="#000"/>
<circle cx="213.7" cy="411.3" r="2.5" fill="#000"/>
<circle cx="213.7" cy="421.7" r="2.5" fill="#000"/>
<circle cx="213.7" cy="431.2" r="2.5" fill="#000"/>
<rect x="197.2" y="438.3" width="7.8" height="7.0" rx="1.5" fill="#8c8c8c" />
<rect x="221.3" y="438.3" width="7.9" height="7.0" rx="1.5" fill="#8c8c8c" />
<rect x="197.2" y="449.7" width="7.8" height="7.0" rx="1.5" fill="#8c8c8c" />
<rect x="221.3" y="449.7" width="7.9" height="7.0" rx="1.5" fill="#8c8c8c" />
<rect x="198.0" y="460.8" width="7.0" height="15.9" rx="2.0" fill="#8c8c8c" />
<rect x="209.2" y="460.8" width="7.1" height="15.9" rx="2.0" fill="#8c8c8c" />
<rect x="220.3" y="460.8" width="7.5" height="15.9" rx="2.0" fill="#8c8c8c" />
<rect x="198.0" y="488.0" width="7.0" height="15.7" rx="2.0" fill="#8c8c8c" />
<rect x="220.3" y="488.0" width="7.5" height="15.7" rx="2.0" fill="#8c8c8c" />
<rect x="199.2" y="508.7" width="7.1" height="7.6" rx="1.6" fill="#8c8c8c" />
<rect x="210.0" y="508.7" width="7.5" height="7.6" rx="1.6" fill="#8c8c8c" />
<rect x="220.8" y="508.7" width="7.5" height="7.6" rx="1.6" fill="#8c8c8c" />
<rect x="231.7" y="508.7" width="7.1" height="7.6" rx="1.6" fill="#8c8c8c" />
<rect x="220.8" y="520.0" width="7.5" height="7.5" rx="1.6" fill="#8c8c8c" />
<rect x="231.7" y="520.0" width="7.1" height="7.5" rx="1.6" fill="#8c8c8c" />
<rect x="287.8" y="419.2" width="13.4" height="31.6" rx="4.0" fill="#8c8c8c" />
<rect x="322.5" y="419.2" width="13.7" height="31.6" rx="4.0" fill="#8c8c8c" />
<rect x="287.8" y="457.8" width="13.4" height="31.9" rx="4.0" fill="#8c8c8c" />
<rect x="322.5" y="457.8" width="13.7" height="31.9" rx="4.0" fill="#8c8c8c" />
<rect x="314.7" y="495.3" width="7.0" height="7.4" rx="1.5" fill="#8c8c8c" />
<rect x="325.8" y="495.3" width="7.2" height="7.4" rx="1.6" fill="#8c8c8c" />
<rect x="314.7" y="507.2" width="7.0" height="7.5" rx="1.5" fill="#8c8c8c" />
<rect x="325.8" y="507.2" width="7.2" height="7.5" rx="1.6" fill="#8c8c8c" />
<rect x="297.0" y="519.7" width="7.0" height="23.1" rx="1.0" fill="#8c8c8c" />
<rect x="297.0" y="578.0" width="7.0" height="23.2" rx="1.0" fill="#8c8c8c" />
<rect x="311.9" y="519.7" width="7.0" height="23.1" rx="1.0" fill="#8c8c8c" />
<rect x="311.9" y="578.0" width="7.0" height="23.2" rx="1.0" fill="#8c8c8c" />
<rect x="326.9" y="519.7" width="7.0" height="23.1" rx="1.0" fill="#8c8c8c" />
<rect x="326.9" y="578.0" width="7.0" height="23.2" rx="1.0" fill="#8c8c8c" />
<rect x="341.9" y="519.7" width="7.0" height="23.1" rx="1.0" fill="#8c8c8c" />
<rect x="341.9" y="578.0" width="7.0" height="23.2" rx="1.0" fill="#8c8c8c" />
<rect x="364.8" y="518.2" width="9.5" height="25.8" rx="1.0" fill="#b5a040" />
<rect x="365.8" y="519.2" width="7.5" height="23.8" rx="0.8" fill="#8c8c8c" />
<rect x="364.8" y="576.5" width="9.5" height="25.8" rx="1.0" fill="#b5a040" />
<rect x="365.8" y="577.5" width="7.5" height="23.8" rx="0.8" fill="#8c8c8c" />
<rect x="379.8" y="518.2" width="9.5" height="25.8" rx="1.0" fill="#b5a040" />
<rect x="380.8" y="519.2" width="7.5" height="23.8" rx="0.8" fill="#8c8c8c" />
<rect x="379.8" y="576.5" width="9.5" height="25.8" rx="1.0" fill="#b5a040" />
<rect x="380.8" y="577.5" width="7.5" height="23.8" rx="0.8" fill="#8c8c8c" />
<rect x="394.8" y="518.2" width="9.5" height="25.8" rx="1.0" fill="#b5a040" />
<rect x="395.8" y="519.2" width="7.5" height="23.8" rx="0.8" fill="#8c8c8c" />
<rect x="394.8" y="576.5" width="9.5" height="25.8" rx="1.0" fill="#b5a040" />
<rect x="395.8" y="577.5" width="7.5" height="23.8" rx="0.8" fill="#8c8c8c" />
<rect x="409.8" y="518.2" width="9.5" height="25.8" rx="1.0" fill="#b5a040" />
<rect x="410.8" y="519.2" width="7.5" height="23.8" rx="0.8" fill="#8c8c8c" />
<rect x="409.8" y="576.5" width="9.5" height="25.8" rx="1.0" fill="#b5a040" />
<rect x="410.8" y="577.5" width="7.5" height="23.8" rx="0.8" fill="#8c8c8c" />
<circle cx="384.5" cy="503.3" r="2.5" fill="#000"/>
<circle cx="300.0" cy="570.8" r="2.5" fill="#000"/>
<circle cx="369.5" cy="607.5" r="2.7" fill="#eef6ee"/>
<rect x="438.3" y="538.8" width="23.4" height="7.0" rx="1.5" fill="#8c8c8c" />
<rect x="497.0" y="538.8" width="22.7" height="7.0" rx="1.5" fill="#8c8c8c" />
<rect x="438.3" y="553.8" width="23.4" height="7.0" rx="1.5" fill="#8c8c8c" />
<rect x="497.0" y="553.8" width="22.7" height="7.0" rx="1.5" fill="#8c8c8c" />
<rect x="438.3" y="568.7" width="23.4" height="7.1" rx="1.5" fill="#8c8c8c" />
<rect x="497.0" y="568.7" width="22.7" height="7.1" rx="1.5" fill="#8c8c8c" />
<rect x="438.3" y="583.7" width="23.4" height="7.1" rx="1.5" fill="#8c8c8c" />
<rect x="497.0" y="583.7" width="22.7" height="7.1" rx="1.5" fill="#8c8c8c" />
<rect x="456.2" y="522.5" width="6.6" height="7.5" rx="1.5" fill="#8c8c8c" />
<rect x="467.2" y="522.5" width="6.6" height="7.5" rx="1.5" fill="#8c8c8c" />
<rect x="426.3" y="548.3" width="7.4" height="6.4" rx="1.4" fill="#8c8c8c" />
<rect x="426.3" y="560.0" width="7.4" height="6.7" rx="1.5" fill="#8c8c8c" />
<rect x="437.2" y="612.0" width="15.8" height="7.7" rx="1.8" fill="#8c8c8c" />
<rect x="437.2" y="623.3" width="15.8" height="7.5" rx="1.8" fill="#8c8c8c" />
<rect x="437.2" y="634.7" width="15.8" height="7.3" rx="1.8" fill="#8c8c8c" />
<rect x="463.8" y="612.0" width="16.2" height="7.7" rx="1.8" fill="#8c8c8c" />
<rect x="463.8" y="634.7" width="16.2" height="7.3" rx="1.8" fill="#8c8c8c" />
<rect x="484.7" y="601.7" width="7.0" height="6.8" rx="1.5" fill="#8c8c8c" />
<rect x="496.3" y="601.7" width="7.4" height="6.8" rx="1.5" fill="#8c8c8c" />
<rect x="484.7" y="613.0" width="7.0" height="6.7" rx="1.5" fill="#8c8c8c" />
<rect x="496.3" y="613.0" width="7.4" height="6.7" rx="1.5" fill="#8c8c8c" />
<rect x="440.0" y="650.8" width="11.7" height="16.7" rx="3.0" fill="#8c8c8c" />
<rect x="461.3" y="650.8" width="12.0" height="16.7" rx="3.0" fill="#8c8c8c" />
<circle cx="494.7" cy="632.0" r="2.5" fill="#000"/>
<circle cx="506.3" cy="630.8" r="2.5" fill="#000"/>
<circle cx="514.7" cy="640.0" r="2.5" fill="#000"/>
<circle cx="495.3" cy="644.2" r="2.5" fill="#000"/>
<circle cx="504.7" cy="648.3" r="2.5" fill="#000"/>
<circle cx="514.2" cy="653.3" r="2.5" fill="#000"/>
<circle cx="483.0" cy="656.7" r="2.5" fill="#000"/>
<circle cx="495.0" cy="655.8" r="2.5" fill="#000"/>
<circle cx="505.8" cy="660.0" r="2.5" fill="#000"/>
<circle cx="481.3" cy="667.2" r="2.5" fill="#000"/>
<circle cx="494.7" cy="667.0" r="2.5" fill="#000"/>
<circle cx="513.7" cy="667.5" r="2.5" fill="#000"/>
<circle cx="467.0" cy="674.2" r="2.5" fill="#000"/>
<circle cx="488.3" cy="674.7" r="2.5" fill="#000"/>
<circle cx="503.3" cy="672.5" r="2.5" fill="#000"/>
<rect x="130.5" y="584.2" width="4.0" height="17.5" rx="0.0" fill="#8c8c8c" />
<rect x="130.5" y="683.0" width="4.0" height="17.3" rx="0.0" fill="#8c8c8c" />
<rect x="106.7" y="608.0" width="18.0" height="3.9" rx="0.0" fill="#8c8c8c" />
<rect x="205.0" y="608.0" width="17.8" height="3.9" rx="0.0" fill="#8c8c8c" />
<rect x="136.4" y="584.2" width="4.0" height="17.5" rx="0.0" fill="#8c8c8c" />
<rect x="136.4" y="683.0" width="4.0" height="17.3" rx="0.0" fill="#8c8c8c" />
<rect x="106.7" y="613.9" width="18.0" height="3.9" rx="0.0" fill="#8c8c8c" />
<rect x="205.0" y="613.9" width="17.8" height="3.9" rx="0.0" fill="#8c8c8c" />
<rect x="142.4" y="584.2" width="4.0" height="17.5" rx="0.0" fill="#8c8c8c" />
<rect x="142.4" y="683.0" width="4.0" height="17.3" rx="0.0" fill="#8c8c8c" />
<rect x="106.7" y="619.9" width="18.0" height="3.9" rx="0.0" fill="#8c8c8c" />
<rect x="205.0" y="619.9" width="17.8" height="3.9" rx="0.0" fill="#8c8c8c" />
<rect x="148.3" y="584.2" width="4.0" height="17.5" rx="0.0" fill="#8c8c8c" />
<rect x="148.3" y="683.0" width="4.0" height="17.3" rx="0.0" fill="#8c8c8c" />
<rect x="106.7" y="625.8" width="18.0" height="3.9" rx="0.0" fill="#8c8c8c" />
<rect x="205.0" y="625.8" width="17.8" height="3.9" rx="0.0" fill="#8c8c8c" />
<rect x="154.2" y="584.2" width="4.0" height="17.5" rx="0.0" fill="#8c8c8c" />
<rect x="154.2" y="683.0" width="4.0" height="17.3" rx="0.0" fill="#8c8c8c" />
<rect x="106.7" y="631.7" width="18.0" height="3.9" rx="0.0" fill="#8c8c8c" />
<rect x="205.0" y="631.7" width="17.8" height="3.9" rx="0.0" fill="#8c8c8c" />
<rect x="160.2" y="584.2" width="4.0" height="17.5" rx="0.0" fill="#8c8c8c" />
<rect x="160.2" y="683.0" width="4.0" height="17.3" rx="0.0" fill="#8c8c8c" />
<rect x="106.7" y="637.6" width="18.0" height="3.9" rx="0.0" fill="#8c8c8c" />
<rect x="205.0" y="637.6" width="17.8" height="3.9" rx="0.0" fill="#8c8c8c" />
<rect x="166.1" y="584.2" width="4.0" height="17.5" rx="0.0" fill="#8c8c8c" />
<rect x="166.1" y="683.0" width="4.0" height="17.3" rx="0.0" fill="#8c8c8c" />
<rect x="106.7" y="643.6" width="18.0" height="3.9" rx="0.0" fill="#8c8c8c" />
<rect x="205.0" y="643.6" width="17.8" height="3.9" rx="0.0" fill="#8c8c8c" />
<rect x="172.0" y="584.2" width="4.0" height="17.5" rx="0.0" fill="#8c8c8c" />
<rect x="172.0" y="683.0" width="4.0" height="17.3" rx="0.0" fill="#8c8c8c" />
<rect x="106.7" y="649.5" width="18.0" height="3.9" rx="0.0" fill="#8c8c8c" />
<rect x="205.0" y="649.5" width="17.8" height="3.9" rx="0.0" fill="#8c8c8c" />
<rect x="177.9" y="584.2" width="4.0" height="17.5" rx="0.0" fill="#8c8c8c" />
<rect x="177.9" y="683.0" width="4.0" height="17.3" rx="0.0" fill="#8c8c8c" />
<rect x="106.7" y="655.4" width="18.0" height="3.9" rx="0.0" fill="#8c8c8c" />
<rect x="205.0" y="655.4" width="17.8" height="3.9" rx="0.0" fill="#8c8c8c" />
<rect x="183.9" y="584.2" width="4.0" height="17.5" rx="0.0" fill="#8c8c8c" />
<rect x="183.9" y="683.0" width="4.0" height="17.3" rx="0.0" fill="#8c8c8c" />
<rect x="106.7" y="661.4" width="18.0" height="3.9" rx="0.0" fill="#8c8c8c" />
<rect x="205.0" y="661.4" width="17.8" height="3.9" rx="0.0" fill="#8c8c8c" />
<rect x="189.8" y="584.2" width="4.0" height="17.5" rx="0.0" fill="#8c8c8c" />
<rect x="189.8" y="683.0" width="4.0" height="17.3" rx="0.0" fill="#8c8c8c" />
<rect x="106.7" y="667.3" width="18.0" height="3.9" rx="0.0" fill="#8c8c8c" />
<rect x="205.0" y="667.3" width="17.8" height="3.9" rx="0.0" fill="#8c8c8c" />
<rect x="195.7" y="584.2" width="4.0" height="17.5" rx="0.0" fill="#8c8c8c" />
<rect x="195.7" y="683.0" width="4.0" height="17.3" rx="0.0" fill="#8c8c8c" />
<rect x="106.7" y="673.2" width="18.0" height="3.9" rx="0.0" fill="#8c8c8c" />
<rect x="205.0" y="673.2" width="17.8" height="3.9" rx="0.0" fill="#8c8c8c" />
<rect x="117.0" y="572.5" width="6.7" height="7.0" rx="1.5" fill="#8c8c8c" />
<rect x="128.0" y="572.5" width="7.0" height="7.0" rx="1.5" fill="#8c8c8c" />
<rect x="94.2" y="595.3" width="7.1" height="6.7" rx="1.5" fill="#8c8c8c" />
<rect x="94.2" y="606.3" width="7.1" height="6.7" rx="1.5" fill="#8c8c8c" />
<rect x="215.8" y="585.0" width="8.0" height="7.0" rx="1.5" fill="#8c8c8c" />
<rect x="215.8" y="595.8" width="8.0" height="7.2" rx="1.6" fill="#8c8c8c" />
<rect x="204.2" y="690.0" width="6.6" height="7.5" rx="1.5" fill="#8c8c8c" />
<rect x="215.3" y="690.0" width="7.2" height="7.5" rx="1.6" fill="#8c8c8c" />
<circle cx="223.8" cy="556.2" r="2.5" fill="#000"/>
<circle cx="216.7" cy="562.8" r="2.5" fill="#000"/>
<circle cx="210.8" cy="569.5" r="2.5" fill="#000"/>
<circle cx="138.3" cy="606.7" r="2.5" fill="#000"/>
<circle cx="201.3" cy="615.5" r="2.5" fill="#000"/>
<circle cx="233.3" cy="617.0" r="2.5" fill="#000"/>
<circle cx="245.3" cy="628.7" r="2.5" fill="#000"/>
<circle cx="256.7" cy="630.0" r="2.5" fill="#000"/>
<circle cx="246.7" cy="647.2" r="2.5" fill="#000"/>
<circle cx="254.2" cy="672.0" r="2.5" fill="#000"/>
<circle cx="97.5" cy="658.8" r="2.5" fill="#000"/>
<circle cx="94.5" cy="669.0" r="2.5" fill="#000"/>
<circle cx="167.5" cy="677.8" r="2.5" fill="#000"/>
<circle cx="191.2" cy="676.8" r="2.5" fill="#000"/>
<circle cx="273.7" cy="691.7" r="2.5" fill="#000"/>
<circle cx="59.5" cy="606.3" r="2.5" fill="#000"/>
<circle cx="85.8" cy="611.3" r="2.5" fill="#000"/>
<circle cx="62.0" cy="663.8" r="2.5" fill="#000"/>
<circle cx="198.0" cy="733.3" r="2.5" fill="#000"/>
<rect x="70.4" y="620.2" width="11.4" height="11.4" rx="3.2" fill="#8c8c8c" transform="rotate(45 76.1 625.9)"/>
<rect x="82.3" y="631.9" width="11.4" height="11.4" rx="3.2" fill="#8c8c8c" transform="rotate(45 88.0 637.6)"/>
<rect x="56.1" y="635.1" width="11.4" height="11.4" rx="3.2" fill="#8c8c8c" transform="rotate(45 61.8 640.8)"/>
<rect x="67.8" y="646.7" width="11.4" height="11.4" rx="3.2" fill="#8c8c8c" transform="rotate(45 73.5 652.4)"/>
<rect x="63.7" y="611.0" width="6.2" height="6.2" rx="1.7" fill="#8c8c8c" transform="rotate(45 66.8 614.1)"/>
<rect x="55.7" y="618.9" width="6.2" height="6.2" rx="1.7" fill="#8c8c8c" transform="rotate(45 58.8 622.0)"/>
<rect x="81.8" y="659.3" width="6.2" height="6.2" rx="1.7" fill="#8c8c8c" transform="rotate(45 84.9 662.4)"/>
<rect x="73.7" y="667.3" width="6.2" height="6.2" rx="1.7" fill="#8c8c8c" transform="rotate(45 76.8 670.4)"/>
<rect x="157.0" y="706.3" width="7.2" height="7.0" rx="1.5" fill="#8c8c8c" />
<rect x="168.3" y="706.3" width="7.2" height="7.0" rx="1.5" fill="#8c8c8c" />
<rect x="179.7" y="706.3" width="7.0" height="7.0" rx="1.5" fill="#8c8c8c" />
<rect x="191.2" y="706.3" width="6.8" height="7.0" rx="1.5" fill="#8c8c8c" />
<rect x="157.0" y="717.5" width="7.2" height="7.2" rx="1.6" fill="#8c8c8c" />
<rect x="168.3" y="717.5" width="7.2" height="7.2" rx="1.6" fill="#8c8c8c" />
<rect x="179.7" y="717.5" width="7.0" height="7.2" rx="1.5" fill="#8c8c8c" />
<rect x="191.2" y="717.5" width="6.8" height="7.2" rx="1.5" fill="#8c8c8c" />
<rect x="157.0" y="728.8" width="7.2" height="7.0" rx="1.5" fill="#8c8c8c" />
<rect x="168.3" y="728.8" width="7.2" height="7.0" rx="1.5" fill="#8c8c8c" />
<rect x="179.7" y="728.8" width="7.0" height="7.0" rx="1.5" fill="#8c8c8c" />
<rect x="191.2" y="728.8" width="6.8" height="7.0" rx="1.5" fill="#8c8c8c" />
<rect x="169.7" y="746.7" width="7.0" height="6.1" rx="1.3" fill="#8c8c8c" />
<rect x="194.5" y="746.7" width="7.2" height="6.1" rx="1.3" fill="#8c8c8c" />
<rect x="790.3" y="16.7" width="219.7" height="236.6" fill="none" stroke="#c8e9d2" stroke-width="1.7"/>
<rect x="528.7" y="266.5" width="485.2" height="579.9" fill="none" stroke="#c8e9d2" stroke-width="1.7"/>
<rect x="553" y="291" width="437.2" height="531.5" fill="none" stroke="#c8e9d2" stroke-width="1.7"/>
<polyline points="438.5,357.0 402.3,357.0 402.3,493.0 438.5,493.0" fill="none" stroke="#c8e9d2" stroke-width="1.7" stroke-linecap="butt" stroke-linejoin="miter"/>
<polyline points="492.0,357.0 526.7,357.0 526.7,493.0 492.0,493.0" fill="none" stroke="#c8e9d2" stroke-width="1.7" stroke-linecap="butt" stroke-linejoin="miter"/>
<polyline points="375.0,716.5 375.0,680.5 511.0,680.5 511.0,716.5" fill="none" stroke="#c8e9d2" stroke-width="1.7" stroke-linecap="butt" stroke-linejoin="miter"/>
<polyline points="375.0,770.0 375.0,805.0 511.0,805.0 511.0,770.0" fill="none" stroke="#c8e9d2" stroke-width="1.7" stroke-linecap="butt" stroke-linejoin="miter"/>
<polyline points="171.5,125.6 105.5,125.6 105.5,164.3 171.5,164.3" fill="none" stroke="#c8e9d2" stroke-width="1.6" stroke-linecap="butt" stroke-linejoin="miter"/>
<polyline points="160.8,257.0 134.2,257.0 134.2,274.5 160.8,274.5" fill="none" stroke="#c8e9d2" stroke-width="1.6" stroke-linecap="butt" stroke-linejoin="miter"/>
<polyline points="172.8,739.7 205.2,739.7 205.2,759.5 172.8,759.5" fill="none" stroke="#c8e9d2" stroke-width="1.6" stroke-linecap="butt" stroke-linejoin="miter"/>
<polyline points="160.3,186.3 166.2,186.3" fill="none" stroke="#c8e9d2" stroke-width="1.6" stroke-linecap="butt" stroke-linejoin="round"/>
<polyline points="160.3,198.8 166.2,198.8" fill="none" stroke="#c8e9d2" stroke-width="1.6" stroke-linecap="butt" stroke-linejoin="round"/>
<polyline points="117.5,220.3 117.5,237.8" fill="none" stroke="#c8e9d2" stroke-width="1.6" stroke-linecap="butt" stroke-linejoin="round"/>
<polyline points="149.5,220.3 149.5,237.8" fill="none" stroke="#c8e9d2" stroke-width="1.6" stroke-linecap="butt" stroke-linejoin="round"/>
<polyline points="173.0,253.3 173.0,258.7" fill="none" stroke="#c8e9d2" stroke-width="1.6" stroke-linecap="butt" stroke-linejoin="round"/>
<polyline points="185.8,253.3 185.8,258.7" fill="none" stroke="#c8e9d2" stroke-width="1.6" stroke-linecap="butt" stroke-linejoin="round"/>
<polyline points="222.0,222.8 226.2,222.8" fill="none" stroke="#c8e9d2" stroke-width="1.6" stroke-linecap="butt" stroke-linejoin="round"/>
<polyline points="222.0,232.0 226.2,232.0" fill="none" stroke="#c8e9d2" stroke-width="1.6" stroke-linecap="butt" stroke-linejoin="round"/>
<polyline points="214.7,243.5 214.7,247.0" fill="none" stroke="#c8e9d2" stroke-width="1.6" stroke-linecap="butt" stroke-linejoin="round"/>
<polyline points="223.3,243.5 223.3,247.0" fill="none" stroke="#c8e9d2" stroke-width="1.6" stroke-linecap="butt" stroke-linejoin="round"/>
<polyline points="215.8,178.7 223.3,178.7" fill="none" stroke="#c8e9d2" stroke-width="1.6" stroke-linecap="butt" stroke-linejoin="round"/>
<polyline points="215.8,215.3 223.3,215.3" fill="none" stroke="#c8e9d2" stroke-width="1.6" stroke-linecap="butt" stroke-linejoin="round"/>
<polyline points="295.0,178.7 302.0,178.7" fill="none" stroke="#c8e9d2" stroke-width="1.6" stroke-linecap="butt" stroke-linejoin="round"/>
<polyline points="295.0,215.3 302.0,215.3" fill="none" stroke="#c8e9d2" stroke-width="1.6" stroke-linecap="butt" stroke-linejoin="round"/>
<polyline points="315.0,170.8 315.0,188.3" fill="none" stroke="#c8e9d2" stroke-width="1.6" stroke-linecap="butt" stroke-linejoin="round"/>
<polyline points="347.0,170.8 347.0,188.3" fill="none" stroke="#c8e9d2" stroke-width="1.6" stroke-linecap="butt" stroke-linejoin="round"/>
<polyline points="315.5,232.5 315.5,249.2" fill="none" stroke="#c8e9d2" stroke-width="1.6" stroke-linecap="butt" stroke-linejoin="round"/>
<polyline points="347.8,232.5 347.8,249.2" fill="none" stroke="#c8e9d2" stroke-width="1.6" stroke-linecap="butt" stroke-linejoin="round"/>
<polyline points="261.7,236.2 279.2,236.2" fill="none" stroke="#c8e9d2" stroke-width="1.6" stroke-linecap="butt" stroke-linejoin="round"/>
<polyline points="261.7,268.5 279.2,268.5" fill="none" stroke="#c8e9d2" stroke-width="1.6" stroke-linecap="butt" stroke-linejoin="round"/>
<polyline points="71.3,277.5 77.5,277.5" fill="none" stroke="#c8e9d2" stroke-width="1.6" stroke-linecap="butt" stroke-linejoin="round"/>
<polyline points="71.3,290.5 77.5,290.5" fill="none" stroke="#c8e9d2" stroke-width="1.6" stroke-linecap="butt" stroke-linejoin="round"/>
<polyline points="71.3,295.0 77.5,295.0" fill="none" stroke="#c8e9d2" stroke-width="1.6" stroke-linecap="butt" stroke-linejoin="round"/>
<polyline points="71.3,308.0 77.5,308.0" fill="none" stroke="#c8e9d2" stroke-width="1.6" stroke-linecap="butt" stroke-linejoin="round"/>
<polyline points="149.0,322.3 152.5,322.3" fill="none" stroke="#c8e9d2" stroke-width="1.6" stroke-linecap="butt" stroke-linejoin="round"/>
<polyline points="149.0,331.0 152.5,331.0" fill="none" stroke="#c8e9d2" stroke-width="1.6" stroke-linecap="butt" stroke-linejoin="round"/>
<polyline points="208.0,315.3 214.2,315.3" fill="none" stroke="#c8e9d2" stroke-width="1.6" stroke-linecap="butt" stroke-linejoin="round"/>
<polyline points="208.0,328.0 214.2,328.0" fill="none" stroke="#c8e9d2" stroke-width="1.6" stroke-linecap="butt" stroke-linejoin="round"/>
<polyline points="370.7,38.3 358.3,38.3 358.3,49.8" fill="none" stroke="#c8e9d2" stroke-width="1.6" stroke-linecap="butt" stroke-linejoin="miter"/>
<polyline points="478.3,38.3 490.7,38.3 490.7,49.8" fill="none" stroke="#c8e9d2" stroke-width="1.6" stroke-linecap="butt" stroke-linejoin="miter"/>
<polyline points="370.7,163.5 358.3,163.5 358.3,152.0" fill="none" stroke="#c8e9d2" stroke-width="1.6" stroke-linecap="butt" stroke-linejoin="miter"/>
<polyline points="478.3,163.5 490.7,163.5 490.7,152.0" fill="none" stroke="#c8e9d2" stroke-width="1.6" stroke-linecap="butt" stroke-linejoin="miter"/>
<polyline points="510.5,70.8 517.2,70.8" fill="none" stroke="#c8e9d2" stroke-width="1.6" stroke-linecap="butt" stroke-linejoin="round"/>
<polyline points="510.5,88.0 517.2,88.0" fill="none" stroke="#c8e9d2" stroke-width="1.6" stroke-linecap="butt" stroke-linejoin="round"/>
<polyline points="510.5,95.8 517.2,95.8" fill="none" stroke="#c8e9d2" stroke-width="1.6" stroke-linecap="butt" stroke-linejoin="round"/>
<polyline points="510.5,113.0 517.2,113.0" fill="none" stroke="#c8e9d2" stroke-width="1.6" stroke-linecap="butt" stroke-linejoin="round"/>
<polyline points="510.5,120.3 517.2,120.3" fill="none" stroke="#c8e9d2" stroke-width="1.6" stroke-linecap="butt" stroke-linejoin="round"/>
<polyline points="510.5,137.5 517.2,137.5" fill="none" stroke="#c8e9d2" stroke-width="1.6" stroke-linecap="butt" stroke-linejoin="round"/>
<polyline points="510.5,145.0 517.2,145.0" fill="none" stroke="#c8e9d2" stroke-width="1.6" stroke-linecap="butt" stroke-linejoin="round"/>
<polyline points="510.5,162.2 517.2,162.2" fill="none" stroke="#c8e9d2" stroke-width="1.6" stroke-linecap="butt" stroke-linejoin="round"/>
<polyline points="506.3,170.3 512.8,170.3" fill="none" stroke="#c8e9d2" stroke-width="1.6" stroke-linecap="butt" stroke-linejoin="round"/>
<polyline points="506.3,187.5 512.8,187.5" fill="none" stroke="#c8e9d2" stroke-width="1.6" stroke-linecap="butt" stroke-linejoin="round"/>
<polyline points="465.3,170.3 471.7,170.3" fill="none" stroke="#c8e9d2" stroke-width="1.6" stroke-linecap="butt" stroke-linejoin="round"/>
<polyline points="465.3,187.5 471.7,187.5" fill="none" stroke="#c8e9d2" stroke-width="1.6" stroke-linecap="butt" stroke-linejoin="round"/>
<polyline points="506.3,194.5 512.8,194.5" fill="none" stroke="#c8e9d2" stroke-width="1.6" stroke-linecap="butt" stroke-linejoin="round"/>
<polyline points="506.3,211.8 512.8,211.8" fill="none" stroke="#c8e9d2" stroke-width="1.6" stroke-linecap="butt" stroke-linejoin="round"/>
<polyline points="450.3,202.5 450.3,206.3" fill="none" stroke="#c8e9d2" stroke-width="1.6" stroke-linecap="butt" stroke-linejoin="round"/>
<polyline points="460.3,202.5 460.3,206.3" fill="none" stroke="#c8e9d2" stroke-width="1.6" stroke-linecap="butt" stroke-linejoin="round"/>
<polyline points="450.3,225.3 450.3,229.2" fill="none" stroke="#c8e9d2" stroke-width="1.6" stroke-linecap="butt" stroke-linejoin="round"/>
<polyline points="460.3,225.3 460.3,229.2" fill="none" stroke="#c8e9d2" stroke-width="1.6" stroke-linecap="butt" stroke-linejoin="round"/>
<rect x="415.5" y="186.3" width="9.2" height="35.7" fill="none" stroke="#eef6ee" stroke-width="1.6"/>
<polyline points="397.5,184.7 412.8,184.7" fill="none" stroke="#c8e9d2" stroke-width="1.6" stroke-linecap="butt" stroke-linejoin="round"/>
<polyline points="417.5,170.5 420.8,170.5" fill="none" stroke="#c8e9d2" stroke-width="1.6" stroke-linecap="butt" stroke-linejoin="round"/>
<polyline points="417.5,179.7 420.8,179.7" fill="none" stroke="#c8e9d2" stroke-width="1.6" stroke-linecap="butt" stroke-linejoin="round"/>
<polyline points="424.2,228.0 428.0,228.0" fill="none" stroke="#c8e9d2" stroke-width="1.6" stroke-linecap="butt" stroke-linejoin="round"/>
<polyline points="424.2,236.7 428.0,236.7" fill="none" stroke="#c8e9d2" stroke-width="1.6" stroke-linecap="butt" stroke-linejoin="round"/>
<polyline points="424.2,240.8 428.0,240.8" fill="none" stroke="#c8e9d2" stroke-width="1.6" stroke-linecap="butt" stroke-linejoin="round"/>
<polyline points="424.2,249.2 428.0,249.2" fill="none" stroke="#c8e9d2" stroke-width="1.6" stroke-linecap="butt" stroke-linejoin="round"/>
<polyline points="355.3,236.7 355.3,244.2" fill="none" stroke="#c8e9d2" stroke-width="1.6" stroke-linecap="butt" stroke-linejoin="round"/>
<polyline points="368.7,236.7 368.7,244.2" fill="none" stroke="#c8e9d2" stroke-width="1.6" stroke-linecap="butt" stroke-linejoin="round"/>
<polyline points="479.0,217.5 522.7,217.5 528.7,223.5 528.7,234.3 522.7,240.3 479.0,240.3 473.0,234.3 473.0,223.5 479.0,217.5" fill="none" stroke="#eef6ee" stroke-width="1.8" stroke-linecap="round" stroke-linejoin="round"/>
<polyline points="710.3,113.0 720.5,113.0 726.5,119.0 726.5,163.0 720.5,169.0 710.3,169.0 704.3,163.0 704.3,119.0 710.3,113.0" fill="none" stroke="#eef6ee" stroke-width="1.8" stroke-linecap="round" stroke-linejoin="round"/>
<polyline points="271.8,513.0 282.3,513.0 288.3,519.0 288.3,561.5 282.3,567.5 271.8,567.5 265.8,561.5 265.8,519.0 271.8,513.0" fill="none" stroke="#eef6ee" stroke-width="1.8" stroke-linecap="round" stroke-linejoin="round"/>
<polyline points="243.5,532.0 254.0,532.0 260.0,538.0 260.0,580.7 254.0,586.7 243.5,586.7 237.5,580.7 237.5,538.0 243.5,532.0" fill="none" stroke="#eef6ee" stroke-width="1.8" stroke-linecap="round" stroke-linejoin="round"/>
<polyline points="281.8,620.8 326.0,620.8 332.0,626.8 332.0,637.7 326.0,643.7 281.8,643.7 275.8,637.7 275.8,626.8 281.8,620.8" fill="none" stroke="#eef6ee" stroke-width="1.8" stroke-linecap="round" stroke-linejoin="round"/>
<polyline points="311.0,648.0 322.0,648.0 328.0,654.0 328.0,697.7 322.0,703.7 311.0,703.7 305.0,697.7 305.0,654.0 311.0,648.0" fill="none" stroke="#eef6ee" stroke-width="1.8" stroke-linecap="round" stroke-linejoin="round"/>
<polyline points="39.7,450.0 39.7,492.5" fill="none" stroke="#c8e9d2" stroke-width="1.6" stroke-linecap="butt" stroke-linejoin="round"/>
<polyline points="144.7,434.7 144.7,450.0 145.4,450.0 145.4,492.5" fill="none" stroke="#c8e9d2" stroke-width="1.6" stroke-linecap="butt" stroke-linejoin="round"/>
<polyline points="194.2,472.5 194.2,491.7" fill="none" stroke="#c8e9d2" stroke-width="1.6" stroke-linecap="butt" stroke-linejoin="round"/>
<polyline points="231.2,472.5 231.2,491.7" fill="none" stroke="#c8e9d2" stroke-width="1.6" stroke-linecap="butt" stroke-linejoin="round"/>
<polygon points="235.3,464.0 235.3,470.8 229.7,467.4" fill="#eef6ee" />
<polyline points="206.7,509.0 209.7,509.0" fill="none" stroke="#c8e9d2" stroke-width="1.6" stroke-linecap="butt" stroke-linejoin="round"/>
<polyline points="206.7,516.0 209.7,516.0" fill="none" stroke="#c8e9d2" stroke-width="1.6" stroke-linecap="butt" stroke-linejoin="round"/>
<polyline points="228.5,509.0 231.5,509.0" fill="none" stroke="#c8e9d2" stroke-width="1.6" stroke-linecap="butt" stroke-linejoin="round"/>
<polyline points="228.5,516.0 231.5,516.0" fill="none" stroke="#c8e9d2" stroke-width="1.6" stroke-linecap="butt" stroke-linejoin="round"/>
<polyline points="228.5,520.0 231.5,520.0" fill="none" stroke="#c8e9d2" stroke-width="1.6" stroke-linecap="butt" stroke-linejoin="round"/>
<polyline points="228.5,527.5 231.5,527.5" fill="none" stroke="#c8e9d2" stroke-width="1.6" stroke-linecap="butt" stroke-linejoin="round"/>
<polyline points="196.3,446.0 196.3,449.0" fill="none" stroke="#c8e9d2" stroke-width="1.6" stroke-linecap="butt" stroke-linejoin="round"/>
<polyline points="205.8,446.0 205.8,449.0" fill="none" stroke="#c8e9d2" stroke-width="1.6" stroke-linecap="butt" stroke-linejoin="round"/>
<polyline points="220.5,446.0 220.5,449.0" fill="none" stroke="#c8e9d2" stroke-width="1.6" stroke-linecap="butt" stroke-linejoin="round"/>
<polyline points="230.0,446.0 230.0,449.0" fill="none" stroke="#c8e9d2" stroke-width="1.6" stroke-linecap="butt" stroke-linejoin="round"/>
<polyline points="303.0,419.2 320.8,419.2" fill="none" stroke="#c8e9d2" stroke-width="1.6" stroke-linecap="butt" stroke-linejoin="round"/>
<polyline points="303.0,450.8 320.8,450.8" fill="none" stroke="#c8e9d2" stroke-width="1.6" stroke-linecap="butt" stroke-linejoin="round"/>
<polyline points="303.0,457.8 320.8,457.8" fill="none" stroke="#c8e9d2" stroke-width="1.6" stroke-linecap="butt" stroke-linejoin="round"/>
<polyline points="303.0,490.0 320.8,490.0" fill="none" stroke="#c8e9d2" stroke-width="1.6" stroke-linecap="butt" stroke-linejoin="round"/>
<polyline points="322.3,494.8 325.2,494.8" fill="none" stroke="#c8e9d2" stroke-width="1.6" stroke-linecap="butt" stroke-linejoin="round"/>
<polyline points="322.3,503.0 325.2,503.0" fill="none" stroke="#c8e9d2" stroke-width="1.6" stroke-linecap="butt" stroke-linejoin="round"/>
<polyline points="322.3,507.0 325.2,507.0" fill="none" stroke="#c8e9d2" stroke-width="1.6" stroke-linecap="butt" stroke-linejoin="round"/>
<polyline points="322.3,515.0 325.2,515.0" fill="none" stroke="#c8e9d2" stroke-width="1.6" stroke-linecap="butt" stroke-linejoin="round"/>
<polyline points="292.8,537.0 292.8,583.7" fill="none" stroke="#c8e9d2" stroke-width="1.6" stroke-linecap="butt" stroke-linejoin="round"/>
<polyline points="353.0,537.0 353.0,583.7" fill="none" stroke="#c8e9d2" stroke-width="1.6" stroke-linecap="butt" stroke-linejoin="round"/>
<polygon points="289.0,589.0 289.0,595.3 294.5,592.2" fill="#eef6ee" />
<polyline points="363.0,545.8 363.0,574.7" fill="none" stroke="#c8e9d2" stroke-width="1.6" stroke-linecap="butt" stroke-linejoin="round"/>
<polyline points="420.8,545.8 420.8,574.7" fill="none" stroke="#c8e9d2" stroke-width="1.6" stroke-linecap="butt" stroke-linejoin="round"/>
<polyline points="456.2,534.7 502.5,534.7" fill="none" stroke="#c8e9d2" stroke-width="1.6" stroke-linecap="butt" stroke-linejoin="round"/>
<polyline points="456.2,595.0 502.5,595.0" fill="none" stroke="#c8e9d2" stroke-width="1.6" stroke-linecap="butt" stroke-linejoin="round"/>
<polygon points="508.3,598.3 514.2,598.3 511.2,593.0" fill="#eef6ee" />
<polyline points="463.8,522.0 466.2,522.0" fill="none" stroke="#c8e9d2" stroke-width="1.6" stroke-linecap="butt" stroke-linejoin="round"/>
<polyline points="463.8,530.5 466.2,530.5" fill="none" stroke="#c8e9d2" stroke-width="1.6" stroke-linecap="butt" stroke-linejoin="round"/>
<polyline points="425.5,556.0 425.5,559.0" fill="none" stroke="#c8e9d2" stroke-width="1.6" stroke-linecap="butt" stroke-linejoin="round"/>
<polyline points="434.5,556.0 434.5,559.0" fill="none" stroke="#c8e9d2" stroke-width="1.6" stroke-linecap="butt" stroke-linejoin="round"/>
<polygon points="440.0,604.7 446.7,604.7 443.3,609.7" fill="#eef6ee" />
<polyline points="449.0,608.7 468.3,608.7" fill="none" stroke="#c8e9d2" stroke-width="1.6" stroke-linecap="butt" stroke-linejoin="round"/>
<polyline points="449.0,645.3 468.3,645.3" fill="none" stroke="#c8e9d2" stroke-width="1.6" stroke-linecap="butt" stroke-linejoin="round"/>
<polyline points="453.8,650.3 459.7,650.3" fill="none" stroke="#c8e9d2" stroke-width="1.6" stroke-linecap="butt" stroke-linejoin="round"/>
<polyline points="453.8,668.0 459.7,668.0" fill="none" stroke="#c8e9d2" stroke-width="1.6" stroke-linecap="butt" stroke-linejoin="round"/>
<polyline points="484.2,609.3 484.2,612.3" fill="none" stroke="#c8e9d2" stroke-width="1.6" stroke-linecap="butt" stroke-linejoin="round"/>
<polyline points="492.5,609.3 492.5,612.3" fill="none" stroke="#c8e9d2" stroke-width="1.6" stroke-linecap="butt" stroke-linejoin="round"/>
<polyline points="495.8,609.3 495.8,612.3" fill="none" stroke="#c8e9d2" stroke-width="1.6" stroke-linecap="butt" stroke-linejoin="round"/>
<polyline points="504.2,609.3 504.2,612.3" fill="none" stroke="#c8e9d2" stroke-width="1.6" stroke-linecap="butt" stroke-linejoin="round"/>
<polyline points="127.7,599.5 121.5,599.5 121.5,605.5" fill="none" stroke="#c8e9d2" stroke-width="1.6" stroke-linecap="butt" stroke-linejoin="miter"/>
<polyline points="201.4,599.5 207.6,599.5 207.6,605.5" fill="none" stroke="#c8e9d2" stroke-width="1.6" stroke-linecap="butt" stroke-linejoin="miter"/>
<polyline points="127.7,685.0 121.5,685.0 121.5,679.0" fill="none" stroke="#c8e9d2" stroke-width="1.6" stroke-linecap="butt" stroke-linejoin="miter"/>
<polyline points="201.4,685.0 207.6,685.0 207.6,679.0" fill="none" stroke="#c8e9d2" stroke-width="1.6" stroke-linecap="butt" stroke-linejoin="miter"/>
<polygon points="110.3,598.3 120.0,598.3 115.2,605.3" fill="#eef6ee" />
<polyline points="124.3,572.3 126.8,572.3" fill="none" stroke="#c8e9d2" stroke-width="1.6" stroke-linecap="butt" stroke-linejoin="round"/>
<polyline points="124.3,580.0 126.8,580.0" fill="none" stroke="#c8e9d2" stroke-width="1.6" stroke-linecap="butt" stroke-linejoin="round"/>
<polyline points="93.3,602.8 93.3,605.5" fill="none" stroke="#c8e9d2" stroke-width="1.6" stroke-linecap="butt" stroke-linejoin="round"/>
<polyline points="102.0,602.8 102.0,605.5" fill="none" stroke="#c8e9d2" stroke-width="1.6" stroke-linecap="butt" stroke-linejoin="round"/>
<polyline points="215.0,592.7 215.0,595.2" fill="none" stroke="#c8e9d2" stroke-width="1.6" stroke-linecap="butt" stroke-linejoin="round"/>
<polyline points="224.6,592.7 224.6,595.2" fill="none" stroke="#c8e9d2" stroke-width="1.6" stroke-linecap="butt" stroke-linejoin="round"/>
<polyline points="211.5,689.5 214.5,689.5" fill="none" stroke="#c8e9d2" stroke-width="1.6" stroke-linecap="butt" stroke-linejoin="round"/>
<polyline points="211.5,698.0 214.5,698.0" fill="none" stroke="#c8e9d2" stroke-width="1.6" stroke-linecap="butt" stroke-linejoin="round"/>
<polyline points="48.2,641.2 72.9,665.3 101.8,637.0" fill="none" stroke="#eef6ee" stroke-width="1.8" stroke-linecap="butt" stroke-linejoin="miter"/>
<polyline points="61.2,616.5 63.2,614.5" fill="none" stroke="#c8e9d2" stroke-width="1.6" stroke-linecap="butt" stroke-linejoin="round"/>
<polyline points="64.5,620.3 66.5,618.3" fill="none" stroke="#c8e9d2" stroke-width="1.6" stroke-linecap="butt" stroke-linejoin="round"/>
<polyline points="79.3,664.8 81.3,662.8" fill="none" stroke="#c8e9d2" stroke-width="1.6" stroke-linecap="butt" stroke-linejoin="round"/>
<polyline points="82.5,668.6 84.5,666.6" fill="none" stroke="#c8e9d2" stroke-width="1.6" stroke-linecap="butt" stroke-linejoin="round"/>
<polyline points="164.7,705.7 167.7,705.7" fill="none" stroke="#c8e9d2" stroke-width="1.6" stroke-linecap="butt" stroke-linejoin="round"/>
<polyline points="187.3,705.7 190.3,705.7" fill="none" stroke="#c8e9d2" stroke-width="1.6" stroke-linecap="butt" stroke-linejoin="round"/>
<polyline points="164.7,716.9 167.7,716.9" fill="none" stroke="#c8e9d2" stroke-width="1.6" stroke-linecap="butt" stroke-linejoin="round"/>
<polyline points="187.3,716.9 190.3,716.9" fill="none" stroke="#c8e9d2" stroke-width="1.6" stroke-linecap="butt" stroke-linejoin="round"/>
<polyline points="164.7,728.2 167.7,728.2" fill="none" stroke="#c8e9d2" stroke-width="1.6" stroke-linecap="butt" stroke-linejoin="round"/>
<polyline points="187.3,728.2 190.3,728.2" fill="none" stroke="#c8e9d2" stroke-width="1.6" stroke-linecap="butt" stroke-linejoin="round"/>
<polyline points="164.7,736.5 167.7,736.5" fill="none" stroke="#c8e9d2" stroke-width="1.6" stroke-linecap="butt" stroke-linejoin="round"/>
<polyline points="187.3,736.5 190.3,736.5" fill="none" stroke="#c8e9d2" stroke-width="1.6" stroke-linecap="butt" stroke-linejoin="round"/>
<defs><filter id="idf" x="0" y="0" width="1019" height="850" filterUnits="userSpaceOnUse"><feOffset dx="0" dy="0"/></filter></defs>
<g filter="url(#idf)">
<text x="82.5" y="21.0" font-size="17.1" textLength="22.5" lengthAdjust="spacingAndGlyphs" text-anchor="middle"  transform="rotate(0 82.5 14.8)">H2</text>
<text x="672.9" y="21.0" font-size="17.1" textLength="22.5" lengthAdjust="spacingAndGlyphs" text-anchor="middle"  transform="rotate(0 672.9 14.8)">H1</text>
<text x="82.2" y="765.5" font-size="18.2" textLength="22.5" lengthAdjust="spacingAndGlyphs" text-anchor="middle"  transform="rotate(0 82.2 758.9)">H3</text>
<text x="45.0" y="119.0" font-size="18.2" textLength="19.5" lengthAdjust="spacingAndGlyphs" text-anchor="middle" style="font-family:Liberation Sans,sans-serif" transform="rotate(0 45.0 112.5)">J1</text>
<text x="147.5" y="121.5" font-size="17.8" textLength="22.5" lengthAdjust="spacingAndGlyphs" text-anchor="middle"  transform="rotate(0 147.5 115.0)">D3</text>
<text x="163.2" y="182.2" font-size="17.8" textLength="21.8" lengthAdjust="spacingAndGlyphs" text-anchor="middle"  transform="rotate(0 163.2 175.7)">R1</text>
<text x="133.3" y="200.0" font-size="17.8" textLength="22.2" lengthAdjust="spacingAndGlyphs" text-anchor="middle"  transform="rotate(0 133.3 193.5)">C1</text>
<text x="122.8" y="271.3" font-size="18.0" textLength="21.0" lengthAdjust="spacingAndGlyphs" text-anchor="middle"  transform="rotate(0 122.8 264.8)">D1</text>
<text x="195.3" y="262.1" font-size="17.1" textLength="20.8" lengthAdjust="spacingAndGlyphs" text-anchor="middle"  transform="rotate(-90 195.3 255.8)">R4</text>
<text x="190.6" y="229.2" font-size="17.8" textLength="32.0" lengthAdjust="spacingAndGlyphs" text-anchor="middle"  transform="rotate(0 190.6 222.7)">R37</text>
<text x="218.9" y="274.8" font-size="17.8" textLength="20.8" lengthAdjust="spacingAndGlyphs" text-anchor="middle"  transform="rotate(-90 218.9 268.3)">R3</text>
<text x="247.1" y="166.7" font-size="17.8" textLength="22.3" lengthAdjust="spacingAndGlyphs" text-anchor="middle"  transform="rotate(0 247.1 160.2)">Q5</text>
<text x="276.6" y="166.7" font-size="17.8" textLength="22.3" lengthAdjust="spacingAndGlyphs" text-anchor="middle"  transform="rotate(0 276.6 160.2)">Q1</text>
<text x="331.5" y="150.8" font-size="17.8" textLength="33.5" lengthAdjust="spacingAndGlyphs" text-anchor="middle"  transform="rotate(0 331.5 144.3)">C10</text>
<text x="331.0" y="282.5" font-size="17.8" textLength="22.9" lengthAdjust="spacingAndGlyphs" text-anchor="middle"  transform="rotate(0 331.0 276.0)">C3</text>
<text x="269.5" y="284.0" font-size="17.6" textLength="22.5" lengthAdjust="spacingAndGlyphs" text-anchor="middle"  transform="rotate(0 269.5 277.6)">C8</text>
<text x="44.9" y="290.8" font-size="17.8" textLength="21.8" lengthAdjust="spacingAndGlyphs" text-anchor="middle"  transform="rotate(0 44.9 284.3)">R5</text>
<text x="44.9" y="307.5" font-size="18.1" textLength="21.8" lengthAdjust="spacingAndGlyphs" text-anchor="middle"  transform="rotate(0 44.9 300.9)">R6</text>
<text x="150.6" y="346.8" font-size="18.0" textLength="45.3" lengthAdjust="spacingAndGlyphs" text-anchor="middle"  transform="rotate(0 150.6 340.2)">C104</text>
<text x="211.2" y="345.2" font-size="18.1" textLength="22.4" lengthAdjust="spacingAndGlyphs" text-anchor="middle"  transform="rotate(0 211.2 338.6)">R7</text>
<text x="419.4" y="107.2" font-size="17.1" textLength="17.4" lengthAdjust="spacingAndGlyphs" text-anchor="middle"  transform="rotate(-90 419.4 101.0)">L1</text>
<text x="548.8" y="86.3" font-size="18.5" textLength="22.4" lengthAdjust="spacingAndGlyphs" text-anchor="middle"  transform="rotate(0 548.8 79.5)">C5</text>
<text x="548.8" y="110.8" font-size="18.5" textLength="22.4" lengthAdjust="spacingAndGlyphs" text-anchor="middle"  transform="rotate(0 548.8 104.0)">C6</text>
<text x="548.8" y="135.3" font-size="18.5" textLength="22.4" lengthAdjust="spacingAndGlyphs" text-anchor="middle"  transform="rotate(0 548.8 128.6)">C7</text>
<text x="552.1" y="159.7" font-size="18.5" textLength="33.2" lengthAdjust="spacingAndGlyphs" text-anchor="middle"  transform="rotate(0 552.1 152.9)">C37</text>
<text x="547.6" y="186.0" font-size="18.5" textLength="32.8" lengthAdjust="spacingAndGlyphs" text-anchor="middle"  transform="rotate(0 547.6 179.2)">C38</text>
<text x="542.5" y="211.0" font-size="18.5" textLength="22.5" lengthAdjust="spacingAndGlyphs" text-anchor="middle"  transform="rotate(0 542.5 204.2)">C4</text>
<text x="469.0" y="159.7" font-size="18.5" textLength="33.5" lengthAdjust="spacingAndGlyphs" text-anchor="middle"  transform="rotate(0 469.0 152.9)">C39</text>
<text x="418.8" y="166.8" font-size="18.0" textLength="22.4" lengthAdjust="spacingAndGlyphs" text-anchor="middle"  transform="rotate(0 418.8 160.2)">C9</text>
<text x="402.6" y="237.8" font-size="17.8" textLength="21.8" lengthAdjust="spacingAndGlyphs" text-anchor="middle"  transform="rotate(0 402.6 231.3)">R9</text>
<text x="401.9" y="253.2" font-size="17.7" textLength="32.7" lengthAdjust="spacingAndGlyphs" text-anchor="middle"  transform="rotate(0 401.9 246.8)">C11</text>
<text x="378.1" y="246.1" font-size="17.7" textLength="20.8" lengthAdjust="spacingAndGlyphs" text-anchor="middle"  transform="rotate(-90 378.1 239.7)">R8</text>
<text x="453.8" y="261.7" font-size="18.2" textLength="30.8" lengthAdjust="spacingAndGlyphs" text-anchor="middle"  transform="rotate(-90 453.8 255.0)">R29</text>
<text x="453.8" y="294.2" font-size="18.2" textLength="31.8" lengthAdjust="spacingAndGlyphs" text-anchor="middle"  transform="rotate(-90 453.8 287.5)">R30</text>
<text x="500.8" y="258.0" font-size="18.1" textLength="31.5" lengthAdjust="spacingAndGlyphs" text-anchor="middle"  transform="rotate(0 500.8 251.4)">TP7</text>
<text x="688.9" y="147.2" font-size="18.5" textLength="31.8" lengthAdjust="spacingAndGlyphs" text-anchor="middle"  transform="rotate(-90 688.9 140.5)">TP6</text>
<text x="775.0" y="252.0" font-size="19.6" textLength="19.5" lengthAdjust="spacingAndGlyphs" text-anchor="middle" style="font-family:Liberation Sans,sans-serif" transform="rotate(0 775.0 245.0)">J2</text>
<text x="394.7" y="431.6" font-size="18.1" textLength="18.2" lengthAdjust="spacingAndGlyphs" text-anchor="middle"  transform="rotate(-90 394.7 425.0)">L2</text>
<text x="515.4" y="839.8" font-size="18.2" textLength="18.8" lengthAdjust="spacingAndGlyphs" text-anchor="middle"  transform="rotate(0 515.4 833.1)">T1</text>
<text x="347.0" y="804.8" font-size="18.2" textLength="21.5" lengthAdjust="spacingAndGlyphs" text-anchor="middle"  transform="rotate(0 347.0 798.1)">L3</text>
<text x="156.2" y="477.5" font-size="16.3" textLength="19.1" lengthAdjust="spacingAndGlyphs" text-anchor="middle" style="font-family:Liberation Sans,sans-serif" transform="rotate(-90 156.2 471.6)">J3</text>
<text x="187.5" y="454.3" font-size="18.7" textLength="32.4" lengthAdjust="spacingAndGlyphs" text-anchor="middle"  transform="rotate(-90 187.5 447.5)">C62</text>
<text x="265.2" y="445.5" font-size="18.5" textLength="32.6" lengthAdjust="spacingAndGlyphs" text-anchor="middle"  transform="rotate(0 265.2 438.8)">C33</text>
<text x="267.1" y="468.8" font-size="18.5" textLength="32.3" lengthAdjust="spacingAndGlyphs" text-anchor="middle"  transform="rotate(0 267.1 462.1)">C31</text>
<text x="265.8" y="494.2" font-size="18.4" textLength="32.5" lengthAdjust="spacingAndGlyphs" text-anchor="middle"  transform="rotate(0 265.8 487.5)">C27</text>
<text x="265.8" y="509.2" font-size="18.4" textLength="32.5" lengthAdjust="spacingAndGlyphs" text-anchor="middle"  transform="rotate(0 265.8 502.5)">C29</text>
<text x="369.6" y="513.3" font-size="17.8" textLength="22.8" lengthAdjust="spacingAndGlyphs" text-anchor="middle"  transform="rotate(0 369.6 506.8)">Q2</text>
<text x="275.4" y="591.7" font-size="18.4" textLength="30.8" lengthAdjust="spacingAndGlyphs" text-anchor="middle"  transform="rotate(-90 275.4 585.0)">TP1</text>
<text x="249.6" y="611.7" font-size="18.4" textLength="30.8" lengthAdjust="spacingAndGlyphs" text-anchor="middle"  transform="rotate(-90 249.6 605.0)">TP2</text>
<text x="282.1" y="614.2" font-size="18.5" textLength="22.3" lengthAdjust="spacingAndGlyphs" text-anchor="middle"  transform="rotate(0 282.1 607.5)">U5</text>
<text x="350.3" y="638.8" font-size="18.5" textLength="31.5" lengthAdjust="spacingAndGlyphs" text-anchor="middle"  transform="rotate(0 350.3 632.0)">TP4</text>
<text x="339.6" y="683.4" font-size="18.4" textLength="30.8" lengthAdjust="spacingAndGlyphs" text-anchor="middle"  transform="rotate(-90 339.6 676.7)">TP3</text>
<text x="430.4" y="532.1" font-size="18.4" textLength="31.6" lengthAdjust="spacingAndGlyphs" text-anchor="middle"  transform="rotate(-90 430.4 525.4)">C28</text>
<text x="495.6" y="532.0" font-size="18.9" textLength="32.8" lengthAdjust="spacingAndGlyphs" text-anchor="middle"  transform="rotate(0 495.6 525.1)">C30</text>
<text x="516.4" y="613.5" font-size="18.8" textLength="22.7" lengthAdjust="spacingAndGlyphs" text-anchor="middle"  transform="rotate(0 516.4 606.6)">U4</text>
<text x="420.6" y="623.0" font-size="18.9" textLength="22.0" lengthAdjust="spacingAndGlyphs" text-anchor="middle"  transform="rotate(0 420.6 616.1)">U1</text>
<text x="416.2" y="662.0" font-size="19.2" textLength="32.4" lengthAdjust="spacingAndGlyphs" text-anchor="middle"  transform="rotate(0 416.2 655.0)">R21</text>
<text x="491.6" y="638.8" font-size="17.1" textLength="19.8" lengthAdjust="spacingAndGlyphs" text-anchor="middle"  transform="rotate(-90 491.6 632.5)">C2</text>
<text x="508.4" y="644.9" font-size="17.1" textLength="31.5" lengthAdjust="spacingAndGlyphs" text-anchor="middle"  transform="rotate(-90 508.4 638.6)">C24</text>
<text x="165.0" y="579.7" font-size="18.5" textLength="22.1" lengthAdjust="spacingAndGlyphs" text-anchor="middle"  transform="rotate(0 165.0 573.0)">U2</text>
<text x="126.0" y="568.0" font-size="18.5" textLength="33.5" lengthAdjust="spacingAndGlyphs" text-anchor="middle"  transform="rotate(0 126.0 561.2)">C47</text>
<text x="82.9" y="597.7" font-size="18.4" textLength="30.8" lengthAdjust="spacingAndGlyphs" text-anchor="middle"  transform="rotate(-90 82.9 591.0)">C61</text>
<text x="124.3" y="717.7" font-size="18.1" textLength="32.8" lengthAdjust="spacingAndGlyphs" text-anchor="middle"  transform="rotate(0 124.3 711.1)">C36</text>
<text x="124.3" y="733.5" font-size="18.1" textLength="32.8" lengthAdjust="spacingAndGlyphs" text-anchor="middle"  transform="rotate(0 124.3 726.9)">C20</text>
<text x="125.8" y="749.7" font-size="18.1" textLength="32.5" lengthAdjust="spacingAndGlyphs" text-anchor="middle"  transform="rotate(0 125.8 743.1)">R71</text>
<text x="222.3" y="715.5" font-size="18.5" textLength="32.8" lengthAdjust="spacingAndGlyphs" text-anchor="middle"  transform="rotate(0 222.3 708.8)">C49</text>
<text x="222.3" y="730.2" font-size="18.1" textLength="32.8" lengthAdjust="spacingAndGlyphs" text-anchor="middle"  transform="rotate(0 222.3 723.6)">C48</text>
<text x="223.6" y="746.3" font-size="18.5" textLength="32.7" lengthAdjust="spacingAndGlyphs" text-anchor="middle"  transform="rotate(0 223.6 739.5)">R23</text>
<text x="185.8" y="777.5" font-size="18.2" textLength="32.5" lengthAdjust="spacingAndGlyphs" text-anchor="middle"  transform="rotate(0 185.8 770.9)">D27</text>
<text x="209.7" y="305.2" font-size="25.0" textLength="34.8" lengthAdjust="spacingAndGlyphs" text-anchor="middle" style="stroke-width:1.25px" transform="rotate(0 209.7 296.1)">IC1</text>
<text x="377.0" y="213.0" font-size="25.4" textLength="35.5" lengthAdjust="spacingAndGlyphs" text-anchor="middle" style="stroke-width:1.25px" transform="rotate(0 377.0 203.8)">IC2</text>
<text x="49.0" y="609.8" font-size="15.8" textLength="29.0" lengthAdjust="spacingAndGlyphs" text-anchor="middle" transform="rotate(-45 49.0 604.0)">C97</text>
<text x="48.3" y="672.8" font-size="15.8" textLength="19.0" lengthAdjust="spacingAndGlyphs" text-anchor="middle" transform="rotate(-45 48.3 667.0)">Y2</text>
<text x="60.6" y="694.5" font-size="15.8" textLength="29.0" lengthAdjust="spacingAndGlyphs" text-anchor="middle" transform="rotate(-45 60.6 688.8)">C94</text>
</g>
</svg>
</body></html>
